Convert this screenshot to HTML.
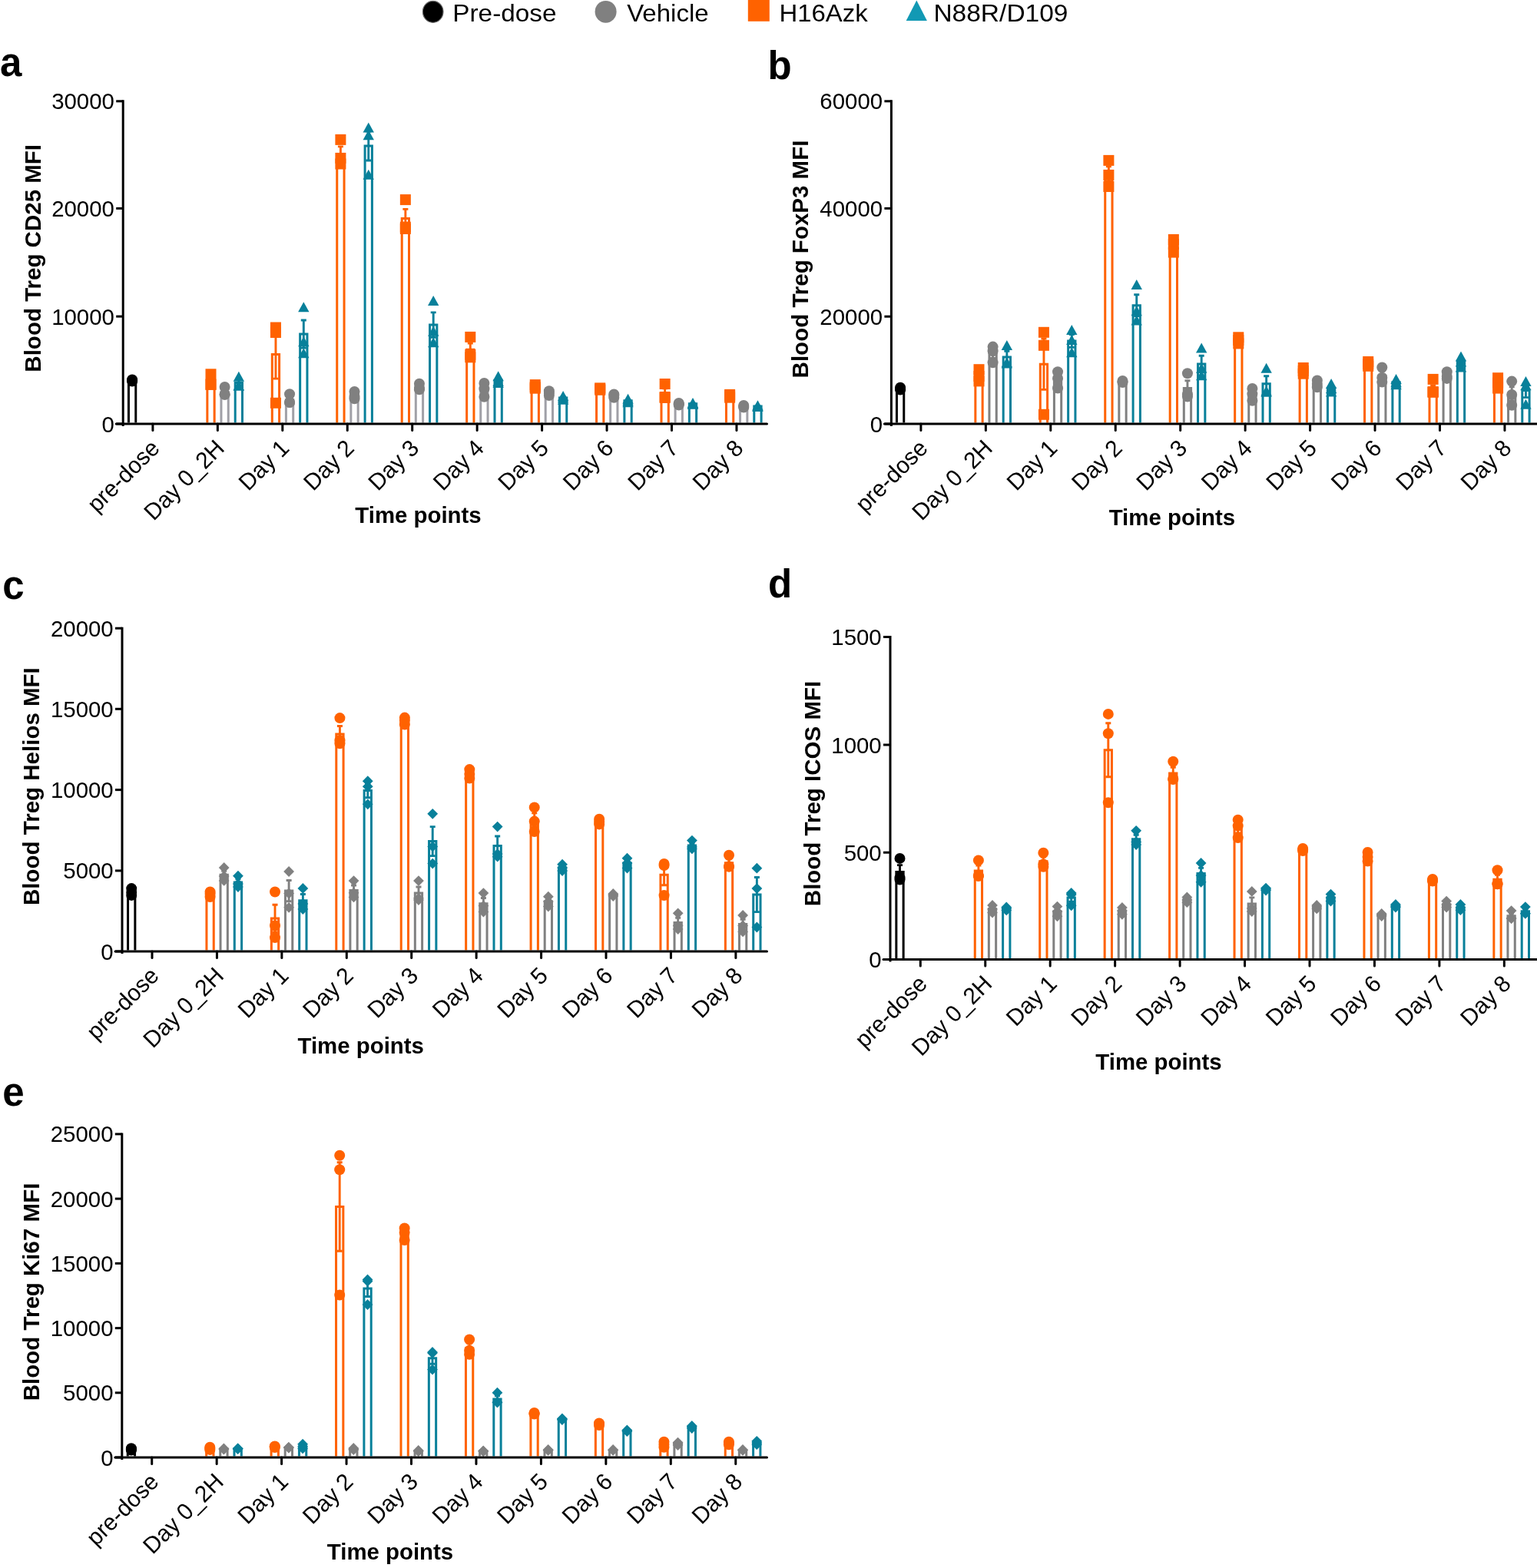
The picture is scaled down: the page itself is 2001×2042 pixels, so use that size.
<!DOCTYPE html>
<html><head><meta charset="utf-8"><title>Blood Treg MFI time course</title>
<style>html,body{margin:0;padding:0;background:#fff;}body{width:2001px;height:2042px;overflow:hidden;}svg{display:block;}text{fill:#000;}</style>
</head><body>
<svg width="2001" height="2042" viewBox="0 0 2001 2042" font-family="'Liberation Sans', Arial, Helvetica, sans-serif">
<rect width="2001" height="2042" fill="#fff"/>
<ellipse cx="563.7" cy="15.3" rx="13.3" ry="14" fill="#000" stroke="#6a6a6a" stroke-width="1.2"/>
<text x="589.3" y="27.6" font-size="32" textLength="135.23" lengthAdjust="spacingAndGlyphs">Pre-dose</text>
<ellipse cx="788.6" cy="15.3" rx="14" ry="14.4" fill="#808080"/>
<text x="816.2" y="27.6" font-size="32" textLength="106.37" lengthAdjust="spacingAndGlyphs">Vehicle</text>
<rect x="973.8" y="-2" width="28" height="29.8" fill="#FF6200"/>
<text x="1014.4" y="27.6" font-size="32" textLength="115.35" lengthAdjust="spacingAndGlyphs">H16Azk</text>
<polygon points="1193.3,0.6 1206.9,27 1179.7,27" fill="#1299B4"/>
<text x="1215.4" y="27.6" font-size="32" textLength="175.11" lengthAdjust="spacingAndGlyphs">N88R/D109</text>
<path d="M167.45 550.6V495.5H176.75V550.6" fill="none" stroke="#000000" stroke-width="3"/>
<path d="M269.85 550.6V496.3H279.15V550.6" fill="none" stroke="#FF6200" stroke-width="3"/>
<path d="M287.95 550.6V510.53H297.25V550.6" fill="none" stroke="#A0A0A7" stroke-width="3"/>
<path d="M306.2 550.6V498.47H315.5V550.6" fill="none" stroke="#08809A" stroke-width="3"/>
<path d="M354.3 550.6V461.43H363.6V550.6" fill="none" stroke="#FF6200" stroke-width="3"/>
<path d="M372.4 550.6V520.4H381.7V550.6" fill="none" stroke="#A0A0A7" stroke-width="3"/>
<path d="M390.65 550.6V435H399.95V550.6" fill="none" stroke="#08809A" stroke-width="3"/>
<path d="M438.75 550.6V200.43H448.05V550.6" fill="none" stroke="#FF6200" stroke-width="3"/>
<path d="M456.85 550.6V515.03H466.15V550.6" fill="none" stroke="#A0A0A7" stroke-width="3"/>
<path d="M475.1 550.6V190H484.4V550.6" fill="none" stroke="#08809A" stroke-width="3"/>
<path d="M523.2 550.6V284.6H532.5V550.6" fill="none" stroke="#FF6200" stroke-width="3"/>
<path d="M541.3 550.6V504.03H550.6V550.6" fill="none" stroke="#A0A0A7" stroke-width="3"/>
<path d="M559.55 550.6V423.07H568.85V550.6" fill="none" stroke="#08809A" stroke-width="3"/>
<path d="M607.65 550.6V455.33H616.95V550.6" fill="none" stroke="#FF6200" stroke-width="3"/>
<path d="M625.75 550.6V507.37H635.05V550.6" fill="none" stroke="#A0A0A7" stroke-width="3"/>
<path d="M644 550.6V495.23H653.3V550.6" fill="none" stroke="#08809A" stroke-width="3"/>
<path d="M692.1 550.6V503.6H701.4V550.6" fill="none" stroke="#FF6200" stroke-width="3"/>
<path d="M710.2 550.6V512.07H719.5V550.6" fill="none" stroke="#A0A0A7" stroke-width="3"/>
<path d="M728.45 550.6V518.1H737.75V550.6" fill="none" stroke="#08809A" stroke-width="3"/>
<path d="M776.55 550.6V506.57H785.85V550.6" fill="none" stroke="#FF6200" stroke-width="3"/>
<path d="M794.65 550.6V515.4H803.95V550.6" fill="none" stroke="#A0A0A7" stroke-width="3"/>
<path d="M812.9 550.6V521.87H822.2V550.6" fill="none" stroke="#08809A" stroke-width="3"/>
<path d="M861 550.6V511.67H870.3V550.6" fill="none" stroke="#FF6200" stroke-width="3"/>
<path d="M879.1 550.6V526.27H888.4V550.6" fill="none" stroke="#A0A0A7" stroke-width="3"/>
<path d="M897.35 550.6V525.77H906.65V550.6" fill="none" stroke="#08809A" stroke-width="3"/>
<path d="M945.45 550.6V515.7H954.75V550.6" fill="none" stroke="#FF6200" stroke-width="3"/>
<path d="M963.55 550.6V529.17H972.85V550.6" fill="none" stroke="#A0A0A7" stroke-width="3"/>
<path d="M981.8 550.6V528.97H991.1V550.6" fill="none" stroke="#08809A" stroke-width="3"/>
<path d="M172.1 494.92V496.08M168.6 494.92H175.6M168.6 496.08H175.6" stroke="#000000" stroke-width="2.9" fill="none"/>
<path d="M274.5 491.8V500.8M271 491.8H278M271 500.8H278" stroke="#FF6200" stroke-width="2.9" fill="none"/>
<path d="M292.6 507.27V513.8M289.1 507.27H296.1M289.1 513.8H296.1" stroke="#A0A0A7" stroke-width="2.9" fill="none"/>
<path d="M310.85 494.53V502.4M307.35 494.53H314.35M307.35 502.4H314.35" stroke="#08809A" stroke-width="2.9" fill="none"/>
<path d="M358.95 429.69V493.17M355.45 429.69H362.45M355.45 493.17H362.45" stroke="#FF6200" stroke-width="2.9" fill="none"/>
<path d="M377.05 516.8V524M373.55 516.8H380.55M373.55 524H380.55" stroke="#A0A0A7" stroke-width="2.9" fill="none"/>
<path d="M395.3 416.97V453.03M391.8 416.97H398.8M391.8 453.03H398.8" stroke="#08809A" stroke-width="2.9" fill="none"/>
<path d="M443.4 190.91V209.96M439.9 190.91H446.9M439.9 209.96H446.9" stroke="#FF6200" stroke-width="2.9" fill="none"/>
<path d="M461.5 512.31V517.76M458 512.31H465M458 517.76H465" stroke="#A0A0A7" stroke-width="2.9" fill="none"/>
<path d="M479.75 171.04V208.96M476.25 171.04H483.25M476.25 208.96H483.25" stroke="#08809A" stroke-width="2.9" fill="none"/>
<path d="M527.85 272.33V296.87M524.35 272.33H531.35M524.35 296.87H531.35" stroke="#FF6200" stroke-width="2.9" fill="none"/>
<path d="M545.95 501.81V506.25M542.45 501.81H549.45M542.45 506.25H549.45" stroke="#A0A0A7" stroke-width="2.9" fill="none"/>
<path d="M564.2 406.83V439.3M560.7 406.83H567.7M560.7 439.3H567.7" stroke="#08809A" stroke-width="2.9" fill="none"/>
<path d="M612.3 447.05V463.61M608.8 447.05H615.8M608.8 463.61H615.8" stroke="#FF6200" stroke-width="2.9" fill="none"/>
<path d="M630.4 502.2V512.53M626.9 502.2H633.9M626.9 512.53H633.9" stroke="#A0A0A7" stroke-width="2.9" fill="none"/>
<path d="M648.65 492.55V497.92M645.15 492.55H652.15M645.15 497.92H652.15" stroke="#08809A" stroke-width="2.9" fill="none"/>
<path d="M696.75 502.26V504.94M693.25 502.26H700.25M693.25 504.94H700.25" stroke="#FF6200" stroke-width="2.9" fill="none"/>
<path d="M714.85 510.39V513.74M711.35 510.39H718.35M711.35 513.74H718.35" stroke="#A0A0A7" stroke-width="2.9" fill="none"/>
<path d="M733.1 516.74V519.46M729.6 516.74H736.6M729.6 519.46H736.6" stroke="#08809A" stroke-width="2.9" fill="none"/>
<path d="M781.2 505.87V507.26M777.7 505.87H784.7M777.7 507.26H784.7" stroke="#FF6200" stroke-width="2.9" fill="none"/>
<path d="M799.3 514.17V516.63M795.8 514.17H802.8M795.8 516.63H802.8" stroke="#A0A0A7" stroke-width="2.9" fill="none"/>
<path d="M817.55 520.59V523.14M814.05 520.59H821.05M814.05 523.14H821.05" stroke="#08809A" stroke-width="2.9" fill="none"/>
<path d="M865.65 505.83V517.51M862.15 505.83H869.15M862.15 517.51H869.15" stroke="#FF6200" stroke-width="2.9" fill="none"/>
<path d="M883.75 525.54V526.99M880.25 525.54H887.25M880.25 526.99H887.25" stroke="#A0A0A7" stroke-width="2.9" fill="none"/>
<path d="M902 525.26V526.27M898.5 525.26H905.5M898.5 526.27H905.5" stroke="#08809A" stroke-width="2.9" fill="none"/>
<path d="M950.1 514.6V516.8M946.6 514.6H953.6M946.6 516.8H953.6" stroke="#FF6200" stroke-width="2.9" fill="none"/>
<path d="M968.2 528.44V529.89M964.7 528.44H971.7M964.7 529.89H971.7" stroke="#A0A0A7" stroke-width="2.9" fill="none"/>
<path d="M986.45 528.48V529.46M982.95 528.48H989.95M982.95 529.46H989.95" stroke="#08809A" stroke-width="2.9" fill="none"/>
<circle cx="172.1" cy="494.5" r="7" fill="#000000"/>
<circle cx="172.1" cy="495.5" r="7" fill="#000000"/>
<circle cx="172.1" cy="496.5" r="7" fill="#000000"/>
<rect x="267.5" y="480.3" width="14" height="14" fill="#FF6200"/>
<rect x="267.5" y="493.8" width="14" height="14" fill="#FF6200"/>
<rect x="267.5" y="493.8" width="14" height="14" fill="#FF6200"/>
<circle cx="292.6" cy="504" r="7" fill="#808080"/>
<circle cx="292.6" cy="513.8" r="7" fill="#808080"/>
<circle cx="292.6" cy="513.8" r="7" fill="#808080"/>
<polygon points="310.85,483.8 318.05,496.8 303.65,496.8" fill="#08809A"/>
<polygon points="310.85,495.6 318.05,508.6 303.65,508.6" fill="#08809A"/>
<polygon points="310.85,495.6 318.05,508.6 303.65,508.6" fill="#08809A"/>
<rect x="351.95" y="419.5" width="14" height="14" fill="#FF6200"/>
<rect x="351.95" y="426" width="14" height="14" fill="#FF6200"/>
<rect x="351.95" y="517.8" width="14" height="14" fill="#FF6200"/>
<circle cx="377.05" cy="513.2" r="7" fill="#808080"/>
<circle cx="377.05" cy="524" r="7" fill="#808080"/>
<circle cx="377.05" cy="524" r="7" fill="#808080"/>
<polygon points="395.3,393.2 402.5,406.2 388.1,406.2" fill="#08809A"/>
<polygon points="395.3,438.2 402.5,451.2 388.1,451.2" fill="#08809A"/>
<polygon points="395.3,453.2 402.5,466.2 388.1,466.2" fill="#08809A"/>
<rect x="436.4" y="174.9" width="14" height="14" fill="#FF6200"/>
<rect x="436.4" y="198.9" width="14" height="14" fill="#FF6200"/>
<rect x="436.4" y="206.5" width="14" height="14" fill="#FF6200"/>
<circle cx="461.5" cy="509.9" r="7" fill="#808080"/>
<circle cx="461.5" cy="516" r="7" fill="#808080"/>
<circle cx="461.5" cy="519.2" r="7" fill="#808080"/>
<polygon points="479.75,159.6 486.95,172.6 472.55,172.6" fill="#08809A"/>
<polygon points="479.75,169.3 486.95,182.3 472.55,182.3" fill="#08809A"/>
<polygon points="479.75,220.7 486.95,233.7 472.55,233.7" fill="#08809A"/>
<rect x="520.85" y="253.1" width="14" height="14" fill="#FF6200"/>
<rect x="520.85" y="288.7" width="14" height="14" fill="#FF6200"/>
<rect x="520.85" y="291" width="14" height="14" fill="#FF6200"/>
<circle cx="545.95" cy="499.8" r="7" fill="#808080"/>
<circle cx="545.95" cy="505" r="7" fill="#808080"/>
<circle cx="545.95" cy="507.3" r="7" fill="#808080"/>
<polygon points="564.2,384.9 571.4,397.9 557,397.9" fill="#08809A"/>
<polygon points="564.2,424.7 571.4,437.7 557,437.7" fill="#08809A"/>
<polygon points="564.2,439.2 571.4,452.2 557,452.2" fill="#08809A"/>
<rect x="605.3" y="431.9" width="14" height="14" fill="#FF6200"/>
<rect x="605.3" y="454.8" width="14" height="14" fill="#FF6200"/>
<rect x="605.3" y="458.3" width="14" height="14" fill="#FF6200"/>
<circle cx="630.4" cy="499" r="7" fill="#808080"/>
<circle cx="630.4" cy="506.3" r="7" fill="#808080"/>
<circle cx="630.4" cy="516.8" r="7" fill="#808080"/>
<polygon points="648.65,483.2 655.85,496.2 641.45,496.2" fill="#08809A"/>
<polygon points="648.65,490 655.85,503 641.45,503" fill="#08809A"/>
<polygon points="648.65,492.1 655.85,505.1 641.45,505.1" fill="#08809A"/>
<rect x="689.75" y="494.1" width="14" height="14" fill="#FF6200"/>
<rect x="689.75" y="497" width="14" height="14" fill="#FF6200"/>
<rect x="689.75" y="498.7" width="14" height="14" fill="#FF6200"/>
<circle cx="714.85" cy="509.2" r="7" fill="#808080"/>
<circle cx="714.85" cy="512" r="7" fill="#808080"/>
<circle cx="714.85" cy="515" r="7" fill="#808080"/>
<polygon points="733.1,509 740.3,522 725.9,522" fill="#08809A"/>
<polygon points="733.1,511.2 740.3,524.2 725.9,524.2" fill="#08809A"/>
<polygon points="733.1,513.7 740.3,526.7 725.9,526.7" fill="#08809A"/>
<rect x="774.2" y="498.4" width="14" height="14" fill="#FF6200"/>
<rect x="774.2" y="499.5" width="14" height="14" fill="#FF6200"/>
<rect x="774.2" y="500.8" width="14" height="14" fill="#FF6200"/>
<circle cx="799.3" cy="513.5" r="7" fill="#808080"/>
<circle cx="799.3" cy="515" r="7" fill="#808080"/>
<circle cx="799.3" cy="517.7" r="7" fill="#808080"/>
<polygon points="817.55,512.8 824.75,525.8 810.35,525.8" fill="#08809A"/>
<polygon points="817.55,515.2 824.75,528.2 810.35,528.2" fill="#08809A"/>
<polygon points="817.55,517.2 824.75,530.2 810.35,530.2" fill="#08809A"/>
<rect x="858.65" y="493" width="14" height="14" fill="#FF6200"/>
<rect x="858.65" y="510" width="14" height="14" fill="#FF6200"/>
<rect x="858.65" y="511" width="14" height="14" fill="#FF6200"/>
<circle cx="883.75" cy="525" r="7" fill="#808080"/>
<circle cx="883.75" cy="526.3" r="7" fill="#808080"/>
<circle cx="883.75" cy="527.5" r="7" fill="#808080"/>
<polygon points="902,518 909.2,531 894.8,531" fill="#08809A"/>
<polygon points="902,519.2 909.2,532.2 894.8,532.2" fill="#08809A"/>
<polygon points="902,519.7 909.2,532.7 894.8,532.7" fill="#08809A"/>
<rect x="943.1" y="506.9" width="14" height="14" fill="#FF6200"/>
<rect x="943.1" y="508.5" width="14" height="14" fill="#FF6200"/>
<rect x="943.1" y="510.7" width="14" height="14" fill="#FF6200"/>
<circle cx="968.2" cy="528" r="7" fill="#808080"/>
<circle cx="968.2" cy="529" r="7" fill="#808080"/>
<circle cx="968.2" cy="530.5" r="7" fill="#808080"/>
<polygon points="986.45,521.3 993.65,534.3 979.25,534.3" fill="#08809A"/>
<polygon points="986.45,522.2 993.65,535.2 979.25,535.2" fill="#08809A"/>
<polygon points="986.45,523 993.65,536 979.25,536" fill="#08809A"/>
<path d="M160.2 130.3V555" stroke="#000" stroke-width="3" fill="none"/>
<path d="M151.2 552H998.5" stroke="#000" stroke-width="3" fill="none" stroke-linecap="round"/>
<path d="M151.2 552H160.2" stroke="#000" stroke-width="3"/>
<text x="148.9" y="562.5" text-anchor="end" font-size="29.8" textLength="16.35" lengthAdjust="spacingAndGlyphs">0</text>
<path d="M151.2 412.1H160.2" stroke="#000" stroke-width="3"/>
<text x="148.9" y="422.6" text-anchor="end" font-size="29.8" textLength="81.76" lengthAdjust="spacingAndGlyphs">10000</text>
<path d="M151.2 271.4H160.2" stroke="#000" stroke-width="3"/>
<text x="148.9" y="281.9" text-anchor="end" font-size="29.8" textLength="81.76" lengthAdjust="spacingAndGlyphs">20000</text>
<path d="M151.2 131.8H160.2" stroke="#000" stroke-width="3"/>
<text x="148.9" y="142.3" text-anchor="end" font-size="29.8" textLength="81.76" lengthAdjust="spacingAndGlyphs">30000</text>
<path d="M198.9 552V560.5" stroke="#000" stroke-width="3" stroke-linecap="round"/>
<text transform="translate(209.4 585.4) rotate(-45)" text-anchor="end" font-size="30.4" textLength="117.78" lengthAdjust="spacingAndGlyphs">pre-dose</text>
<path d="M283.35 552V560.5" stroke="#000" stroke-width="3" stroke-linecap="round"/>
<text transform="translate(293.85 585.4) rotate(-45)" text-anchor="end" font-size="30.4" textLength="132.7" lengthAdjust="spacingAndGlyphs">Day 0_2H</text>
<path d="M367.8 552V560.5" stroke="#000" stroke-width="3" stroke-linecap="round"/>
<text transform="translate(378.3 585.4) rotate(-45)" text-anchor="end" font-size="30.4" textLength="77.95" lengthAdjust="spacingAndGlyphs">Day 1</text>
<path d="M452.25 552V560.5" stroke="#000" stroke-width="3" stroke-linecap="round"/>
<text transform="translate(462.75 585.4) rotate(-45)" text-anchor="end" font-size="30.4" textLength="77.95" lengthAdjust="spacingAndGlyphs">Day 2</text>
<path d="M536.7 552V560.5" stroke="#000" stroke-width="3" stroke-linecap="round"/>
<text transform="translate(547.2 585.4) rotate(-45)" text-anchor="end" font-size="30.4" textLength="77.95" lengthAdjust="spacingAndGlyphs">Day 3</text>
<path d="M621.15 552V560.5" stroke="#000" stroke-width="3" stroke-linecap="round"/>
<text transform="translate(631.65 585.4) rotate(-45)" text-anchor="end" font-size="30.4" textLength="77.95" lengthAdjust="spacingAndGlyphs">Day 4</text>
<path d="M705.6 552V560.5" stroke="#000" stroke-width="3" stroke-linecap="round"/>
<text transform="translate(716.1 585.4) rotate(-45)" text-anchor="end" font-size="30.4" textLength="77.95" lengthAdjust="spacingAndGlyphs">Day 5</text>
<path d="M790.05 552V560.5" stroke="#000" stroke-width="3" stroke-linecap="round"/>
<text transform="translate(800.55 585.4) rotate(-45)" text-anchor="end" font-size="30.4" textLength="77.95" lengthAdjust="spacingAndGlyphs">Day 6</text>
<path d="M874.5 552V560.5" stroke="#000" stroke-width="3" stroke-linecap="round"/>
<text transform="translate(885 585.4) rotate(-45)" text-anchor="end" font-size="30.4" textLength="77.95" lengthAdjust="spacingAndGlyphs">Day 7</text>
<path d="M958.95 552V560.5" stroke="#000" stroke-width="3" stroke-linecap="round"/>
<text transform="translate(969.45 585.4) rotate(-45)" text-anchor="end" font-size="30.4" textLength="77.95" lengthAdjust="spacingAndGlyphs">Day 8</text>
<text x="544.5" y="681.1" text-anchor="middle" font-size="29.4" font-weight="bold">Time points</text>
<text transform="translate(53.2 336.3) rotate(-90)" text-anchor="middle" font-size="29.5" font-weight="bold">Blood Treg CD25 MFI</text>
<text x="0" y="98.8" font-size="51" font-weight="bold">a</text>
<path d="M1167.45 550.6V506.13H1176.75V550.6" fill="none" stroke="#000000" stroke-width="3"/>
<path d="M1269.85 550.6V489.2H1279.15V550.6" fill="none" stroke="#FF6200" stroke-width="3"/>
<path d="M1287.95 550.6V460.37H1297.25V550.6" fill="none" stroke="#808080" stroke-width="3"/>
<path d="M1306.2 550.6V465.03H1315.5V550.6" fill="none" stroke="#08809A" stroke-width="3"/>
<path d="M1354.3 550.6V474.13H1363.6V550.6" fill="none" stroke="#FF6200" stroke-width="3"/>
<path d="M1372.4 550.6V494.13H1381.7V550.6" fill="none" stroke="#808080" stroke-width="3"/>
<path d="M1390.65 550.6V443.9H1399.95V550.6" fill="none" stroke="#08809A" stroke-width="3"/>
<path d="M1438.75 550.6V226.6H1448.05V550.6" fill="none" stroke="#FF6200" stroke-width="3"/>
<path d="M1456.85 550.6V497H1466.15V550.6" fill="none" stroke="#808080" stroke-width="3"/>
<path d="M1475.1 550.6V397.7H1484.4V550.6" fill="none" stroke="#08809A" stroke-width="3"/>
<path d="M1523.2 550.6V319.53H1532.5V550.6" fill="none" stroke="#FF6200" stroke-width="3"/>
<path d="M1541.3 550.6V505.4H1550.6V550.6" fill="none" stroke="#808080" stroke-width="3"/>
<path d="M1559.55 550.6V473.97H1568.85V550.6" fill="none" stroke="#08809A" stroke-width="3"/>
<path d="M1607.65 550.6V443.23H1616.95V550.6" fill="none" stroke="#FF6200" stroke-width="3"/>
<path d="M1625.75 550.6V513.57H1635.05V550.6" fill="none" stroke="#808080" stroke-width="3"/>
<path d="M1644 550.6V499.8H1653.3V550.6" fill="none" stroke="#08809A" stroke-width="3"/>
<path d="M1692.1 550.6V482.9H1701.4V550.6" fill="none" stroke="#FF6200" stroke-width="3"/>
<path d="M1710.2 550.6V499.9H1719.5V550.6" fill="none" stroke="#808080" stroke-width="3"/>
<path d="M1728.45 550.6V505.4H1737.75V550.6" fill="none" stroke="#08809A" stroke-width="3"/>
<path d="M1776.55 550.6V473.93H1785.85V550.6" fill="none" stroke="#FF6200" stroke-width="3"/>
<path d="M1794.65 550.6V489.3H1803.95V550.6" fill="none" stroke="#808080" stroke-width="3"/>
<path d="M1812.9 550.6V497.67H1822.2V550.6" fill="none" stroke="#08809A" stroke-width="3"/>
<path d="M1861 550.6V506.35H1870.3V550.6" fill="none" stroke="#FF6200" stroke-width="3"/>
<path d="M1879.1 550.6V489.03H1888.4V550.6" fill="none" stroke="#808080" stroke-width="3"/>
<path d="M1897.35 550.6V471.3H1906.65V550.6" fill="none" stroke="#08809A" stroke-width="3"/>
<path d="M1945.45 550.6V498.77H1954.75V550.6" fill="none" stroke="#FF6200" stroke-width="3"/>
<path d="M1963.55 550.6V512.8H1972.85V550.6" fill="none" stroke="#808080" stroke-width="3"/>
<path d="M1981.8 550.6V508.47H1991.1V550.6" fill="none" stroke="#08809A" stroke-width="3"/>
<path d="M1172.1 505.32V506.94M1168.6 505.32H1175.6M1168.6 506.94H1175.6" stroke="#000000" stroke-width="2.9" fill="none"/>
<path d="M1274.5 484.79V493.61M1271 484.79H1278M1271 493.61H1278" stroke="#FF6200" stroke-width="2.9" fill="none"/>
<path d="M1292.6 454.23V466.51M1289.1 454.23H1296.1M1289.1 466.51H1296.1" stroke="#808080" stroke-width="2.9" fill="none"/>
<path d="M1310.85 457.41V472.66M1307.35 457.41H1314.35M1307.35 472.66H1314.35" stroke="#08809A" stroke-width="2.9" fill="none"/>
<path d="M1358.95 440.94V507.33M1355.45 440.94H1362.45M1355.45 507.33H1362.45" stroke="#FF6200" stroke-width="2.9" fill="none"/>
<path d="M1377.05 487.94V500.32M1373.55 487.94H1380.55M1373.55 500.32H1380.55" stroke="#808080" stroke-width="2.9" fill="none"/>
<path d="M1395.3 435.45V452.35M1391.8 435.45H1398.8M1391.8 452.35H1398.8" stroke="#08809A" stroke-width="2.9" fill="none"/>
<path d="M1443.4 216.73V236.47M1439.9 216.73H1446.9M1439.9 236.47H1446.9" stroke="#FF6200" stroke-width="2.9" fill="none"/>
<path d="M1461.5 496.42V497.58M1458 496.42H1465M1458 497.58H1465" stroke="#808080" stroke-width="2.9" fill="none"/>
<path d="M1479.75 383.79V411.61M1476.25 383.79H1483.25M1476.25 411.61H1483.25" stroke="#08809A" stroke-width="2.9" fill="none"/>
<path d="M1527.85 314.68V324.39M1524.35 314.68H1531.35M1524.35 324.39H1531.35" stroke="#FF6200" stroke-width="2.9" fill="none"/>
<path d="M1545.95 495.76V515.04M1542.45 495.76H1549.45M1542.45 515.04H1549.45" stroke="#808080" stroke-width="2.9" fill="none"/>
<path d="M1564.2 463.28V484.65M1560.7 463.28H1567.7M1560.7 484.65H1567.7" stroke="#08809A" stroke-width="2.9" fill="none"/>
<path d="M1612.3 440.89V445.57M1608.8 440.89H1615.8M1608.8 445.57H1615.8" stroke="#FF6200" stroke-width="2.9" fill="none"/>
<path d="M1630.4 509V518.13M1626.9 509H1633.9M1626.9 518.13H1633.9" stroke="#808080" stroke-width="2.9" fill="none"/>
<path d="M1648.65 489.69V509.91M1645.15 489.69H1652.15M1645.15 509.91H1652.15" stroke="#08809A" stroke-width="2.9" fill="none"/>
<path d="M1696.75 480.68V485.12M1693.25 480.68H1700.25M1693.25 485.12H1700.25" stroke="#FF6200" stroke-width="2.9" fill="none"/>
<path d="M1714.85 497.39V502.41M1711.35 497.39H1718.35M1711.35 502.41H1718.35" stroke="#808080" stroke-width="2.9" fill="none"/>
<path d="M1733.1 502.38V508.42M1729.6 502.38H1736.6M1729.6 508.42H1736.6" stroke="#08809A" stroke-width="2.9" fill="none"/>
<path d="M1781.2 472.26V475.61M1777.7 472.26H1784.7M1777.7 475.61H1784.7" stroke="#FF6200" stroke-width="2.9" fill="none"/>
<path d="M1799.3 483.65V494.95M1795.8 483.65H1802.8M1795.8 494.95H1802.8" stroke="#808080" stroke-width="2.9" fill="none"/>
<path d="M1817.55 495.58V499.75M1814.05 495.58H1821.05M1814.05 499.75H1821.05" stroke="#08809A" stroke-width="2.9" fill="none"/>
<path d="M1865.65 502.2V510.5M1862.15 502.2H1869.15M1862.15 510.5H1869.15" stroke="#FF6200" stroke-width="2.9" fill="none"/>
<path d="M1883.75 486.48V491.59M1880.25 486.48H1887.25M1880.25 491.59H1887.25" stroke="#808080" stroke-width="2.9" fill="none"/>
<path d="M1902 467.2V475.4M1898.5 467.2H1905.5M1898.5 475.4H1905.5" stroke="#08809A" stroke-width="2.9" fill="none"/>
<path d="M1950.1 494.9V502.64M1946.6 494.9H1953.6M1946.6 502.64H1953.6" stroke="#FF6200" stroke-width="2.9" fill="none"/>
<path d="M1968.2 503.77V521.83M1964.7 503.77H1971.7M1964.7 521.83H1971.7" stroke="#808080" stroke-width="2.9" fill="none"/>
<path d="M1986.45 499.28V517.66M1982.95 499.28H1989.95M1982.95 517.66H1989.95" stroke="#08809A" stroke-width="2.9" fill="none"/>
<circle cx="1172.1" cy="504.8" r="7" fill="#000000"/>
<circle cx="1172.1" cy="506" r="7" fill="#000000"/>
<circle cx="1172.1" cy="507.6" r="7" fill="#000000"/>
<rect x="1267.5" y="474.2" width="14" height="14" fill="#FF6200"/>
<rect x="1267.5" y="483" width="14" height="14" fill="#FF6200"/>
<rect x="1267.5" y="489.4" width="14" height="14" fill="#FF6200"/>
<circle cx="1292.6" cy="451.6" r="7" fill="#808080"/>
<circle cx="1292.6" cy="457.3" r="7" fill="#808080"/>
<circle cx="1292.6" cy="472.2" r="7" fill="#808080"/>
<polygon points="1310.85,443 1318.05,456 1303.65,456" fill="#08809A"/>
<polygon points="1310.85,465.2 1318.05,478.2 1303.65,478.2" fill="#08809A"/>
<polygon points="1310.85,466.5 1318.05,479.5 1303.65,479.5" fill="#08809A"/>
<rect x="1351.95" y="425.8" width="14" height="14" fill="#FF6200"/>
<rect x="1351.95" y="442.8" width="14" height="14" fill="#FF6200"/>
<rect x="1351.95" y="532.8" width="14" height="14" fill="#FF6200"/>
<circle cx="1377.05" cy="484.2" r="7" fill="#808080"/>
<circle cx="1377.05" cy="492.7" r="7" fill="#808080"/>
<circle cx="1377.05" cy="505.5" r="7" fill="#808080"/>
<polygon points="1395.3,423.1 1402.5,436.1 1388.1,436.1" fill="#08809A"/>
<polygon points="1395.3,435.9 1402.5,448.9 1388.1,448.9" fill="#08809A"/>
<polygon points="1395.3,452.3 1402.5,465.3 1388.1,465.3" fill="#08809A"/>
<rect x="1436.4" y="201.9" width="14" height="14" fill="#FF6200"/>
<rect x="1436.4" y="220.9" width="14" height="14" fill="#FF6200"/>
<rect x="1436.4" y="236" width="14" height="14" fill="#FF6200"/>
<circle cx="1461.5" cy="496" r="7" fill="#808080"/>
<circle cx="1461.5" cy="497" r="7" fill="#808080"/>
<circle cx="1461.5" cy="498" r="7" fill="#808080"/>
<polygon points="1479.75,364 1486.95,377 1472.55,377" fill="#08809A"/>
<polygon points="1479.75,398.2 1486.95,411.2 1472.55,411.2" fill="#08809A"/>
<polygon points="1479.75,410.5 1486.95,423.5 1472.55,423.5" fill="#08809A"/>
<rect x="1520.85" y="305" width="14" height="14" fill="#FF6200"/>
<rect x="1520.85" y="311" width="14" height="14" fill="#FF6200"/>
<rect x="1520.85" y="321.6" width="14" height="14" fill="#FF6200"/>
<circle cx="1545.95" cy="486.2" r="7" fill="#808080"/>
<circle cx="1545.95" cy="513.5" r="7" fill="#808080"/>
<circle cx="1545.95" cy="516.5" r="7" fill="#808080"/>
<polygon points="1564.2,446.5 1571.4,459.5 1557,459.5" fill="#08809A"/>
<polygon points="1564.2,472.8 1571.4,485.8 1557,485.8" fill="#08809A"/>
<polygon points="1564.2,482.2 1571.4,495.2 1557,495.2" fill="#08809A"/>
<rect x="1605.3" y="432.3" width="14" height="14" fill="#FF6200"/>
<rect x="1605.3" y="436" width="14" height="14" fill="#FF6200"/>
<rect x="1605.3" y="440.4" width="14" height="14" fill="#FF6200"/>
<circle cx="1630.4" cy="505.9" r="7" fill="#808080"/>
<circle cx="1630.4" cy="513.1" r="7" fill="#808080"/>
<circle cx="1630.4" cy="521.7" r="7" fill="#808080"/>
<polygon points="1648.65,472.8 1655.85,485.8 1641.45,485.8" fill="#08809A"/>
<polygon points="1648.65,502.5 1655.85,515.5 1641.45,515.5" fill="#08809A"/>
<polygon points="1648.65,503.7 1655.85,516.7 1641.45,516.7" fill="#08809A"/>
<rect x="1689.75" y="472" width="14" height="14" fill="#FF6200"/>
<rect x="1689.75" y="476" width="14" height="14" fill="#FF6200"/>
<rect x="1689.75" y="479.7" width="14" height="14" fill="#FF6200"/>
<circle cx="1714.85" cy="495.5" r="7" fill="#808080"/>
<circle cx="1714.85" cy="500" r="7" fill="#808080"/>
<circle cx="1714.85" cy="504.2" r="7" fill="#808080"/>
<polygon points="1733.1,493.1 1740.3,506.1 1725.9,506.1" fill="#08809A"/>
<polygon points="1733.1,499.2 1740.3,512.2 1725.9,512.2" fill="#08809A"/>
<polygon points="1733.1,503.5 1740.3,516.5 1725.9,516.5" fill="#08809A"/>
<rect x="1774.2" y="464" width="14" height="14" fill="#FF6200"/>
<rect x="1774.2" y="467" width="14" height="14" fill="#FF6200"/>
<rect x="1774.2" y="469.8" width="14" height="14" fill="#FF6200"/>
<circle cx="1799.3" cy="478.5" r="7" fill="#808080"/>
<circle cx="1799.3" cy="491.8" r="7" fill="#808080"/>
<circle cx="1799.3" cy="497.6" r="7" fill="#808080"/>
<polygon points="1817.55,487.1 1824.75,500.1 1810.35,500.1" fill="#08809A"/>
<polygon points="1817.55,491.2 1824.75,504.2 1810.35,504.2" fill="#08809A"/>
<polygon points="1817.55,494.3 1824.75,507.3 1810.35,507.3" fill="#08809A"/>
<rect x="1858.65" y="486.9" width="14" height="14" fill="#FF6200"/>
<rect x="1858.65" y="503.5" width="14" height="14" fill="#FF6200"/>
<rect x="1858.65" y="503.5" width="14" height="14" fill="#FF6200"/>
<rect x="1858.65" y="503.5" width="14" height="14" fill="#FF6200"/>
<circle cx="1883.75" cy="484.2" r="7" fill="#808080"/>
<circle cx="1883.75" cy="490" r="7" fill="#808080"/>
<circle cx="1883.75" cy="492.9" r="7" fill="#808080"/>
<polygon points="1902,457.4 1909.2,470.4 1894.8,470.4" fill="#08809A"/>
<polygon points="1902,464.5 1909.2,477.5 1894.8,477.5" fill="#08809A"/>
<polygon points="1902,471.6 1909.2,484.6 1894.8,484.6" fill="#08809A"/>
<rect x="1943.1" y="485.2" width="14" height="14" fill="#FF6200"/>
<rect x="1943.1" y="491.5" width="14" height="14" fill="#FF6200"/>
<rect x="1943.1" y="498.6" width="14" height="14" fill="#FF6200"/>
<circle cx="1968.2" cy="496.6" r="7" fill="#808080"/>
<circle cx="1968.2" cy="514" r="7" fill="#808080"/>
<circle cx="1968.2" cy="527.8" r="7" fill="#808080"/>
<polygon points="1986.45,490 1993.65,503 1979.25,503" fill="#08809A"/>
<polygon points="1986.45,495.2 1993.65,508.2 1979.25,508.2" fill="#08809A"/>
<polygon points="1986.45,519.8 1993.65,532.8 1979.25,532.8" fill="#08809A"/>
<path d="M1160.4 130.3V555" stroke="#000" stroke-width="3" fill="none"/>
<path d="M1151.4 552H2001.5" stroke="#000" stroke-width="3" fill="none" stroke-linecap="round"/>
<path d="M1151.4 552H1160.4" stroke="#000" stroke-width="3"/>
<text x="1149.1" y="562.5" text-anchor="end" font-size="29.8" textLength="16.35" lengthAdjust="spacingAndGlyphs">0</text>
<path d="M1151.4 412.2H1160.4" stroke="#000" stroke-width="3"/>
<text x="1149.1" y="422.7" text-anchor="end" font-size="29.8" textLength="81.76" lengthAdjust="spacingAndGlyphs">20000</text>
<path d="M1151.4 271.4H1160.4" stroke="#000" stroke-width="3"/>
<text x="1149.1" y="281.9" text-anchor="end" font-size="29.8" textLength="81.76" lengthAdjust="spacingAndGlyphs">40000</text>
<path d="M1151.4 131.8H1160.4" stroke="#000" stroke-width="3"/>
<text x="1149.1" y="142.3" text-anchor="end" font-size="29.8" textLength="81.76" lengthAdjust="spacingAndGlyphs">60000</text>
<path d="M1198.9 552V560.5" stroke="#000" stroke-width="3" stroke-linecap="round"/>
<text transform="translate(1209.4 585.4) rotate(-45)" text-anchor="end" font-size="30.4" textLength="117.78" lengthAdjust="spacingAndGlyphs">pre-dose</text>
<path d="M1283.35 552V560.5" stroke="#000" stroke-width="3" stroke-linecap="round"/>
<text transform="translate(1293.85 585.4) rotate(-45)" text-anchor="end" font-size="30.4" textLength="132.7" lengthAdjust="spacingAndGlyphs">Day 0_2H</text>
<path d="M1367.8 552V560.5" stroke="#000" stroke-width="3" stroke-linecap="round"/>
<text transform="translate(1378.3 585.4) rotate(-45)" text-anchor="end" font-size="30.4" textLength="77.95" lengthAdjust="spacingAndGlyphs">Day 1</text>
<path d="M1452.25 552V560.5" stroke="#000" stroke-width="3" stroke-linecap="round"/>
<text transform="translate(1462.75 585.4) rotate(-45)" text-anchor="end" font-size="30.4" textLength="77.95" lengthAdjust="spacingAndGlyphs">Day 2</text>
<path d="M1536.7 552V560.5" stroke="#000" stroke-width="3" stroke-linecap="round"/>
<text transform="translate(1547.2 585.4) rotate(-45)" text-anchor="end" font-size="30.4" textLength="77.95" lengthAdjust="spacingAndGlyphs">Day 3</text>
<path d="M1621.15 552V560.5" stroke="#000" stroke-width="3" stroke-linecap="round"/>
<text transform="translate(1631.65 585.4) rotate(-45)" text-anchor="end" font-size="30.4" textLength="77.95" lengthAdjust="spacingAndGlyphs">Day 4</text>
<path d="M1705.6 552V560.5" stroke="#000" stroke-width="3" stroke-linecap="round"/>
<text transform="translate(1716.1 585.4) rotate(-45)" text-anchor="end" font-size="30.4" textLength="77.95" lengthAdjust="spacingAndGlyphs">Day 5</text>
<path d="M1790.05 552V560.5" stroke="#000" stroke-width="3" stroke-linecap="round"/>
<text transform="translate(1800.55 585.4) rotate(-45)" text-anchor="end" font-size="30.4" textLength="77.95" lengthAdjust="spacingAndGlyphs">Day 6</text>
<path d="M1874.5 552V560.5" stroke="#000" stroke-width="3" stroke-linecap="round"/>
<text transform="translate(1885 585.4) rotate(-45)" text-anchor="end" font-size="30.4" textLength="77.95" lengthAdjust="spacingAndGlyphs">Day 7</text>
<path d="M1958.95 552V560.5" stroke="#000" stroke-width="3" stroke-linecap="round"/>
<text transform="translate(1969.45 585.4) rotate(-45)" text-anchor="end" font-size="30.4" textLength="77.95" lengthAdjust="spacingAndGlyphs">Day 8</text>
<text x="1525.9" y="684.3" text-anchor="middle" font-size="29.4" font-weight="bold">Time points</text>
<text transform="translate(1052.4 337.5) rotate(-90)" text-anchor="middle" font-size="29.5" font-weight="bold">Blood Treg FoxP3 MFI</text>
<text x="999.6" y="102.9" font-size="51" font-weight="bold">b</text>
<path d="M166.55 1237.6V1161.67H175.85V1237.6" fill="none" stroke="#000000" stroke-width="3"/>
<path d="M268.93 1237.6V1164.5H278.23V1237.6" fill="none" stroke="#FF6200" stroke-width="3"/>
<path d="M287.03 1237.6V1139.27H296.33V1237.6" fill="none" stroke="#808080" stroke-width="3"/>
<path d="M305.28 1237.6V1148.9H314.58V1237.6" fill="none" stroke="#08809A" stroke-width="3"/>
<path d="M353.36 1237.6V1196.03H362.66V1237.6" fill="none" stroke="#FF6200" stroke-width="3"/>
<path d="M371.46 1237.6V1160.1H380.76V1237.6" fill="none" stroke="#808080" stroke-width="3"/>
<path d="M389.71 1237.6V1172.63H399.01V1237.6" fill="none" stroke="#08809A" stroke-width="3"/>
<path d="M437.79 1237.6V955.9H447.09V1237.6" fill="none" stroke="#FF6200" stroke-width="3"/>
<path d="M455.89 1237.6V1159.4H465.19V1237.6" fill="none" stroke="#808080" stroke-width="3"/>
<path d="M474.14 1237.6V1029.6H483.44V1237.6" fill="none" stroke="#08809A" stroke-width="3"/>
<path d="M522.22 1237.6V938.7H531.52V1237.6" fill="none" stroke="#FF6200" stroke-width="3"/>
<path d="M540.32 1237.6V1162.97H549.62V1237.6" fill="none" stroke="#808080" stroke-width="3"/>
<path d="M558.57 1237.6V1095.6H567.87V1237.6" fill="none" stroke="#08809A" stroke-width="3"/>
<path d="M606.65 1237.6V1007.9H615.95V1237.6" fill="none" stroke="#FF6200" stroke-width="3"/>
<path d="M624.75 1237.6V1176.77H634.05V1237.6" fill="none" stroke="#808080" stroke-width="3"/>
<path d="M643 1237.6V1101.47H652.3V1237.6" fill="none" stroke="#08809A" stroke-width="3"/>
<path d="M691.08 1237.6V1068H700.38V1237.6" fill="none" stroke="#FF6200" stroke-width="3"/>
<path d="M709.18 1237.6V1174.1H718.48V1237.6" fill="none" stroke="#808080" stroke-width="3"/>
<path d="M727.43 1237.6V1129.93H736.73V1237.6" fill="none" stroke="#08809A" stroke-width="3"/>
<path d="M775.51 1237.6V1070.07H784.81V1237.6" fill="none" stroke="#FF6200" stroke-width="3"/>
<path d="M793.61 1237.6V1165.4H802.91V1237.6" fill="none" stroke="#808080" stroke-width="3"/>
<path d="M811.86 1237.6V1124.07H821.16V1237.6" fill="none" stroke="#08809A" stroke-width="3"/>
<path d="M859.94 1237.6V1139.37H869.24V1237.6" fill="none" stroke="#FF6200" stroke-width="3"/>
<path d="M878.04 1237.6V1201.57H887.34V1237.6" fill="none" stroke="#808080" stroke-width="3"/>
<path d="M896.29 1237.6V1101H905.59V1237.6" fill="none" stroke="#08809A" stroke-width="3"/>
<path d="M944.37 1237.6V1123.67H953.67V1237.6" fill="none" stroke="#FF6200" stroke-width="3"/>
<path d="M962.47 1237.6V1203.6H971.77V1237.6" fill="none" stroke="#808080" stroke-width="3"/>
<path d="M980.72 1237.6V1165.1H990.02V1237.6" fill="none" stroke="#08809A" stroke-width="3"/>
<path d="M171.2 1159.12V1164.21M167.7 1159.12H174.7M167.7 1164.21H174.7" stroke="#000000" stroke-width="2.9" fill="none"/>
<path d="M273.58 1162.55V1166.45M270.08 1162.55H277.08M270.08 1166.45H277.08" stroke="#FF6200" stroke-width="2.9" fill="none"/>
<path d="M291.68 1134.28V1144.25M288.18 1134.28H295.18M288.18 1144.25H295.18" stroke="#808080" stroke-width="2.9" fill="none"/>
<path d="M309.93 1144.64V1153.16M306.43 1144.64H313.43M306.43 1153.16H313.43" stroke="#08809A" stroke-width="2.9" fill="none"/>
<path d="M358.01 1178.19V1213.88M354.51 1178.19H361.51M354.51 1213.88H361.51" stroke="#FF6200" stroke-width="2.9" fill="none"/>
<path d="M376.11 1146.48V1173.72M372.61 1146.48H379.61M372.61 1173.72H379.61" stroke="#808080" stroke-width="2.9" fill="none"/>
<path d="M394.36 1164.51V1180.76M390.86 1164.51H397.86M390.86 1180.76H397.86" stroke="#08809A" stroke-width="2.9" fill="none"/>
<path d="M442.44 945.44V966.36M438.94 945.44H445.94M438.94 966.36H445.94" stroke="#FF6200" stroke-width="2.9" fill="none"/>
<path d="M460.54 1153.03V1165.77M457.04 1153.03H464.04M457.04 1165.77H464.04" stroke="#808080" stroke-width="2.9" fill="none"/>
<path d="M478.79 1020.52V1038.68M475.29 1020.52H482.29M475.29 1038.68H482.29" stroke="#08809A" stroke-width="2.9" fill="none"/>
<path d="M526.87 936.11V941.29M523.37 936.11H530.37M523.37 941.29H530.37" stroke="#FF6200" stroke-width="2.9" fill="none"/>
<path d="M544.97 1155.01V1170.93M541.47 1155.01H548.47M541.47 1170.93H548.47" stroke="#808080" stroke-width="2.9" fill="none"/>
<path d="M563.22 1076.59V1114.61M559.72 1076.59H566.72M559.72 1114.61H566.72" stroke="#08809A" stroke-width="2.9" fill="none"/>
<path d="M611.3 1004.58V1011.22M607.8 1004.58H614.8M607.8 1011.22H614.8" stroke="#FF6200" stroke-width="2.9" fill="none"/>
<path d="M629.4 1169.55V1183.98M625.9 1169.55H632.9M625.9 1183.98H632.9" stroke="#808080" stroke-width="2.9" fill="none"/>
<path d="M647.65 1088.99V1113.94M644.15 1088.99H651.15M644.15 1113.94H651.15" stroke="#08809A" stroke-width="2.9" fill="none"/>
<path d="M695.73 1058.84V1077.16M692.23 1058.84H699.23M692.23 1077.16H699.23" stroke="#FF6200" stroke-width="2.9" fill="none"/>
<path d="M713.83 1170.4V1177.8M710.33 1170.4H717.33M710.33 1177.8H717.33" stroke="#808080" stroke-width="2.9" fill="none"/>
<path d="M732.08 1127.51V1132.36M728.58 1127.51H735.58M728.58 1132.36H735.58" stroke="#08809A" stroke-width="2.9" fill="none"/>
<path d="M780.16 1068.16V1071.97M776.66 1068.16H783.66M776.66 1071.97H783.66" stroke="#FF6200" stroke-width="2.9" fill="none"/>
<path d="M798.26 1164.53V1166.27M794.76 1164.53H801.76M794.76 1166.27H801.76" stroke="#808080" stroke-width="2.9" fill="none"/>
<path d="M816.51 1120.37V1127.76M813.01 1120.37H820.01M813.01 1127.76H820.01" stroke="#08809A" stroke-width="2.9" fill="none"/>
<path d="M864.59 1125.99V1152.75M861.09 1125.99H868.09M861.09 1152.75H868.09" stroke="#FF6200" stroke-width="2.9" fill="none"/>
<path d="M882.69 1195.29V1207.84M879.19 1195.29H886.19M879.19 1207.84H886.19" stroke="#808080" stroke-width="2.9" fill="none"/>
<path d="M900.94 1097.73V1104.27M897.44 1097.73H904.44M897.44 1104.27H904.44" stroke="#08809A" stroke-width="2.9" fill="none"/>
<path d="M949.02 1118.73V1128.6M945.52 1118.73H952.52M945.52 1128.6H952.52" stroke="#FF6200" stroke-width="2.9" fill="none"/>
<path d="M967.12 1197.36V1209.84M963.62 1197.36H970.62M963.62 1209.84H970.62" stroke="#808080" stroke-width="2.9" fill="none"/>
<path d="M985.37 1142.57V1187.63M981.87 1142.57H988.87M981.87 1187.63H988.87" stroke="#08809A" stroke-width="2.9" fill="none"/>
<circle cx="171.2" cy="1157.1" r="7" fill="#000000"/>
<circle cx="171.2" cy="1162" r="7" fill="#000000"/>
<circle cx="171.2" cy="1165.9" r="7" fill="#000000"/>
<circle cx="273.58" cy="1161.4" r="7" fill="#FF6200"/>
<circle cx="273.58" cy="1164" r="7" fill="#FF6200"/>
<circle cx="273.58" cy="1168.1" r="7" fill="#FF6200"/>
<polygon points="291.68,1123 298.58,1129.9 291.68,1136.8 284.78,1129.9" fill="#808080"/>
<polygon points="291.68,1134.1 298.58,1141 291.68,1147.9 284.78,1141" fill="#808080"/>
<polygon points="291.68,1140 298.58,1146.9 291.68,1153.8 284.78,1146.9" fill="#808080"/>
<polygon points="309.93,1133.8 316.83,1140.7 309.93,1147.6 303.03,1140.7" fill="#08809A"/>
<polygon points="309.93,1144.1 316.83,1151 309.93,1157.9 303.03,1151" fill="#08809A"/>
<polygon points="309.93,1148.1 316.83,1155 309.93,1161.9 303.03,1155" fill="#08809A"/>
<circle cx="358.01" cy="1161.5" r="7" fill="#FF6200"/>
<circle cx="358.01" cy="1205.5" r="7" fill="#FF6200"/>
<circle cx="358.01" cy="1221.1" r="7" fill="#FF6200"/>
<polygon points="376.11,1128.1 383.01,1135 376.11,1141.9 369.21,1135" fill="#808080"/>
<polygon points="376.11,1156.6 383.01,1163.5 376.11,1170.4 369.21,1163.5" fill="#808080"/>
<polygon points="376.11,1174.9 383.01,1181.8 376.11,1188.7 369.21,1181.8" fill="#808080"/>
<polygon points="394.36,1150 401.26,1156.9 394.36,1163.8 387.46,1156.9" fill="#08809A"/>
<polygon points="394.36,1170.1 401.26,1177 394.36,1183.9 387.46,1177" fill="#08809A"/>
<polygon points="394.36,1177.1 401.26,1184 394.36,1190.9 387.46,1184" fill="#08809A"/>
<circle cx="442.44" cy="935.1" r="7" fill="#FF6200"/>
<circle cx="442.44" cy="964.3" r="7" fill="#FF6200"/>
<circle cx="442.44" cy="968.3" r="7" fill="#FF6200"/>
<polygon points="460.54,1140.2 467.44,1147.1 460.54,1154 453.64,1147.1" fill="#808080"/>
<polygon points="460.54,1155.8 467.44,1162.7 460.54,1169.6 453.64,1162.7" fill="#808080"/>
<polygon points="460.54,1161.5 467.44,1168.4 460.54,1175.3 453.64,1168.4" fill="#808080"/>
<polygon points="478.79,1010.3 485.69,1017.2 478.79,1024.1 471.89,1017.2" fill="#08809A"/>
<polygon points="478.79,1017.4 485.69,1024.3 478.79,1031.2 471.89,1024.3" fill="#08809A"/>
<polygon points="478.79,1040.4 485.69,1047.3 478.79,1054.2 471.89,1047.3" fill="#08809A"/>
<circle cx="526.87" cy="934.6" r="7" fill="#FF6200"/>
<circle cx="526.87" cy="938" r="7" fill="#FF6200"/>
<circle cx="526.87" cy="943.5" r="7" fill="#FF6200"/>
<polygon points="544.97,1140.2 551.87,1147.1 544.97,1154 538.07,1147.1" fill="#808080"/>
<polygon points="544.97,1162.9 551.87,1169.8 544.97,1176.7 538.07,1169.8" fill="#808080"/>
<polygon points="544.97,1165.1 551.87,1172 544.97,1178.9 538.07,1172" fill="#808080"/>
<polygon points="563.22,1052.9 570.12,1059.8 563.22,1066.7 556.32,1059.8" fill="#08809A"/>
<polygon points="563.22,1095.5 570.12,1102.4 563.22,1109.3 556.32,1102.4" fill="#08809A"/>
<polygon points="563.22,1117.7 570.12,1124.6 563.22,1131.5 556.32,1124.6" fill="#08809A"/>
<circle cx="611.3" cy="1002.1" r="7" fill="#FF6200"/>
<circle cx="611.3" cy="1008" r="7" fill="#FF6200"/>
<circle cx="611.3" cy="1013.6" r="7" fill="#FF6200"/>
<polygon points="629.4,1156.2 636.3,1163.1 629.4,1170 622.5,1163.1" fill="#808080"/>
<polygon points="629.4,1172.7 636.3,1179.6 629.4,1186.5 622.5,1179.6" fill="#808080"/>
<polygon points="629.4,1180.7 636.3,1187.6 629.4,1194.5 622.5,1187.6" fill="#808080"/>
<polygon points="647.65,1069.7 654.55,1076.6 647.65,1083.5 640.75,1076.6" fill="#08809A"/>
<polygon points="647.65,1105.2 654.55,1112.1 647.65,1119 640.75,1112.1" fill="#08809A"/>
<polygon points="647.65,1108.8 654.55,1115.7 647.65,1122.6 640.75,1115.7" fill="#08809A"/>
<circle cx="695.73" cy="1051.4" r="7" fill="#FF6200"/>
<circle cx="695.73" cy="1069.6" r="7" fill="#FF6200"/>
<circle cx="695.73" cy="1083" r="7" fill="#FF6200"/>
<polygon points="713.83,1160.8 720.73,1167.7 713.83,1174.6 706.93,1167.7" fill="#808080"/>
<polygon points="713.83,1167.2 720.73,1174.1 713.83,1181 706.93,1174.1" fill="#808080"/>
<polygon points="713.83,1173.6 720.73,1180.5 713.83,1187.4 706.93,1180.5" fill="#808080"/>
<polygon points="732.08,1118.8 738.98,1125.7 732.08,1132.6 725.18,1125.7" fill="#08809A"/>
<polygon points="732.08,1123.1 738.98,1130 732.08,1136.9 725.18,1130" fill="#08809A"/>
<polygon points="732.08,1127.2 738.98,1134.1 732.08,1141 725.18,1134.1" fill="#08809A"/>
<circle cx="780.16" cy="1066.8" r="7" fill="#FF6200"/>
<circle cx="780.16" cy="1070" r="7" fill="#FF6200"/>
<circle cx="780.16" cy="1073.4" r="7" fill="#FF6200"/>
<polygon points="798.26,1157.1 805.16,1164 798.26,1170.9 791.36,1164" fill="#808080"/>
<polygon points="798.26,1158.3 805.16,1165.2 798.26,1172.1 791.36,1165.2" fill="#808080"/>
<polygon points="798.26,1160.1 805.16,1167 798.26,1173.9 791.36,1167" fill="#808080"/>
<polygon points="816.51,1110.8 823.41,1117.7 816.51,1124.6 809.61,1117.7" fill="#08809A"/>
<polygon points="816.51,1117.1 823.41,1124 816.51,1130.9 809.61,1124" fill="#08809A"/>
<polygon points="816.51,1123.6 823.41,1130.5 816.51,1137.4 809.61,1130.5" fill="#08809A"/>
<circle cx="864.59" cy="1125" r="7" fill="#FF6200"/>
<circle cx="864.59" cy="1127" r="7" fill="#FF6200"/>
<circle cx="864.59" cy="1166.1" r="7" fill="#FF6200"/>
<polygon points="882.69,1182.4 889.59,1189.3 882.69,1196.2 875.79,1189.3" fill="#808080"/>
<polygon points="882.69,1198.5 889.59,1205.4 882.69,1212.3 875.79,1205.4" fill="#808080"/>
<polygon points="882.69,1203.1 889.59,1210 882.69,1216.9 875.79,1210" fill="#808080"/>
<polygon points="900.94,1087.7 907.84,1094.6 900.94,1101.5 894.04,1094.6" fill="#08809A"/>
<polygon points="900.94,1096.1 907.84,1103 900.94,1109.9 894.04,1103" fill="#08809A"/>
<polygon points="900.94,1098.5 907.84,1105.4 900.94,1112.3 894.04,1105.4" fill="#08809A"/>
<circle cx="949.02" cy="1113.8" r="7" fill="#FF6200"/>
<circle cx="949.02" cy="1128.6" r="7" fill="#FF6200"/>
<circle cx="949.02" cy="1128.6" r="7" fill="#FF6200"/>
<polygon points="967.12,1185.1 974.02,1192 967.12,1198.9 960.22,1192" fill="#808080"/>
<polygon points="967.12,1198.5 974.02,1205.4 967.12,1212.3 960.22,1205.4" fill="#808080"/>
<polygon points="967.12,1206.5 974.02,1213.4 967.12,1220.3 960.22,1213.4" fill="#808080"/>
<polygon points="985.37,1123.8 992.27,1130.7 985.37,1137.6 978.47,1130.7" fill="#08809A"/>
<polygon points="985.37,1150.2 992.27,1157.1 985.37,1164 978.47,1157.1" fill="#08809A"/>
<polygon points="985.37,1200.6 992.27,1207.5 985.37,1214.4 978.47,1207.5" fill="#08809A"/>
<path d="M159 816.7V1242" stroke="#000" stroke-width="3" fill="none"/>
<path d="M150 1239H998.5" stroke="#000" stroke-width="3" fill="none" stroke-linecap="round"/>
<path d="M150 1239H159" stroke="#000" stroke-width="3"/>
<text x="147.7" y="1249.5" text-anchor="end" font-size="29.8" textLength="16.35" lengthAdjust="spacingAndGlyphs">0</text>
<path d="M150 1133.9H159" stroke="#000" stroke-width="3"/>
<text x="147.7" y="1144.4" text-anchor="end" font-size="29.8" textLength="65.41" lengthAdjust="spacingAndGlyphs">5000</text>
<path d="M150 1028.6H159" stroke="#000" stroke-width="3"/>
<text x="147.7" y="1039.1" text-anchor="end" font-size="29.8" textLength="81.76" lengthAdjust="spacingAndGlyphs">10000</text>
<path d="M150 923.3H159" stroke="#000" stroke-width="3"/>
<text x="147.7" y="933.8" text-anchor="end" font-size="29.8" textLength="81.76" lengthAdjust="spacingAndGlyphs">15000</text>
<path d="M150 818.2H159" stroke="#000" stroke-width="3"/>
<text x="147.7" y="828.7" text-anchor="end" font-size="29.8" textLength="81.76" lengthAdjust="spacingAndGlyphs">20000</text>
<path d="M198 1239V1247.5" stroke="#000" stroke-width="3" stroke-linecap="round"/>
<text transform="translate(208.5 1272.4) rotate(-45)" text-anchor="end" font-size="30.4" textLength="117.78" lengthAdjust="spacingAndGlyphs">pre-dose</text>
<path d="M282.43 1239V1247.5" stroke="#000" stroke-width="3" stroke-linecap="round"/>
<text transform="translate(292.93 1272.4) rotate(-45)" text-anchor="end" font-size="30.4" textLength="132.7" lengthAdjust="spacingAndGlyphs">Day 0_2H</text>
<path d="M366.86 1239V1247.5" stroke="#000" stroke-width="3" stroke-linecap="round"/>
<text transform="translate(377.36 1272.4) rotate(-45)" text-anchor="end" font-size="30.4" textLength="77.95" lengthAdjust="spacingAndGlyphs">Day 1</text>
<path d="M451.29 1239V1247.5" stroke="#000" stroke-width="3" stroke-linecap="round"/>
<text transform="translate(461.79 1272.4) rotate(-45)" text-anchor="end" font-size="30.4" textLength="77.95" lengthAdjust="spacingAndGlyphs">Day 2</text>
<path d="M535.72 1239V1247.5" stroke="#000" stroke-width="3" stroke-linecap="round"/>
<text transform="translate(546.22 1272.4) rotate(-45)" text-anchor="end" font-size="30.4" textLength="77.95" lengthAdjust="spacingAndGlyphs">Day 3</text>
<path d="M620.15 1239V1247.5" stroke="#000" stroke-width="3" stroke-linecap="round"/>
<text transform="translate(630.65 1272.4) rotate(-45)" text-anchor="end" font-size="30.4" textLength="77.95" lengthAdjust="spacingAndGlyphs">Day 4</text>
<path d="M704.58 1239V1247.5" stroke="#000" stroke-width="3" stroke-linecap="round"/>
<text transform="translate(715.08 1272.4) rotate(-45)" text-anchor="end" font-size="30.4" textLength="77.95" lengthAdjust="spacingAndGlyphs">Day 5</text>
<path d="M789.01 1239V1247.5" stroke="#000" stroke-width="3" stroke-linecap="round"/>
<text transform="translate(799.51 1272.4) rotate(-45)" text-anchor="end" font-size="30.4" textLength="77.95" lengthAdjust="spacingAndGlyphs">Day 6</text>
<path d="M873.44 1239V1247.5" stroke="#000" stroke-width="3" stroke-linecap="round"/>
<text transform="translate(883.94 1272.4) rotate(-45)" text-anchor="end" font-size="30.4" textLength="77.95" lengthAdjust="spacingAndGlyphs">Day 7</text>
<path d="M957.87 1239V1247.5" stroke="#000" stroke-width="3" stroke-linecap="round"/>
<text transform="translate(968.37 1272.4) rotate(-45)" text-anchor="end" font-size="30.4" textLength="77.95" lengthAdjust="spacingAndGlyphs">Day 8</text>
<text x="469.7" y="1372.2" text-anchor="middle" font-size="29.4" font-weight="bold">Time points</text>
<text transform="translate(50.6 1024.1) rotate(-90)" text-anchor="middle" font-size="29.5" font-weight="bold">Blood Treg Helios MFI</text>
<text x="3.3" y="780" font-size="51" font-weight="bold">c</text>
<path d="M1166.85 1248.1V1135.5H1176.15V1248.1" fill="none" stroke="#000000" stroke-width="3"/>
<path d="M1269.25 1248.1V1133.93H1278.55V1248.1" fill="none" stroke="#FF6200" stroke-width="3"/>
<path d="M1287.35 1248.1V1183.87H1296.65V1248.1" fill="none" stroke="#808080" stroke-width="3"/>
<path d="M1305.6 1248.1V1183.27H1314.9V1248.1" fill="none" stroke="#08809A" stroke-width="3"/>
<path d="M1353.7 1248.1V1121.67H1363V1248.1" fill="none" stroke="#FF6200" stroke-width="3"/>
<path d="M1371.8 1248.1V1186.97H1381.1V1248.1" fill="none" stroke="#808080" stroke-width="3"/>
<path d="M1390.05 1248.1V1169.1H1399.35V1248.1" fill="none" stroke="#08809A" stroke-width="3"/>
<path d="M1438.15 1248.1V976.8H1447.45V1248.1" fill="none" stroke="#FF6200" stroke-width="3"/>
<path d="M1456.25 1248.1V1186.27H1465.55V1248.1" fill="none" stroke="#808080" stroke-width="3"/>
<path d="M1474.5 1248.1V1092.8H1483.8V1248.1" fill="none" stroke="#08809A" stroke-width="3"/>
<path d="M1522.6 1248.1V1006.9H1531.9V1248.1" fill="none" stroke="#FF6200" stroke-width="3"/>
<path d="M1540.7 1248.1V1171.87H1550V1248.1" fill="none" stroke="#808080" stroke-width="3"/>
<path d="M1558.95 1248.1V1137.6H1568.25V1248.1" fill="none" stroke="#08809A" stroke-width="3"/>
<path d="M1607.05 1248.1V1078.1H1616.35V1248.1" fill="none" stroke="#FF6200" stroke-width="3"/>
<path d="M1625.15 1248.1V1176.97H1634.45V1248.1" fill="none" stroke="#808080" stroke-width="3"/>
<path d="M1643.4 1248.1V1158.07H1652.7V1248.1" fill="none" stroke="#08809A" stroke-width="3"/>
<path d="M1691.5 1248.1V1106.47H1700.8V1248.1" fill="none" stroke="#FF6200" stroke-width="3"/>
<path d="M1709.6 1248.1V1181.1H1718.9V1248.1" fill="none" stroke="#808080" stroke-width="3"/>
<path d="M1727.85 1248.1V1169.07H1737.15V1248.1" fill="none" stroke="#08809A" stroke-width="3"/>
<path d="M1775.95 1248.1V1115.87H1785.25V1248.1" fill="none" stroke="#FF6200" stroke-width="3"/>
<path d="M1794.05 1248.1V1191.5H1803.35V1248.1" fill="none" stroke="#808080" stroke-width="3"/>
<path d="M1812.3 1248.1V1179.87H1821.6V1248.1" fill="none" stroke="#08809A" stroke-width="3"/>
<path d="M1860.4 1248.1V1146.17H1869.7V1248.1" fill="none" stroke="#FF6200" stroke-width="3"/>
<path d="M1878.5 1248.1V1177.73H1887.8V1248.1" fill="none" stroke="#808080" stroke-width="3"/>
<path d="M1896.75 1248.1V1181.73H1906.05V1248.1" fill="none" stroke="#08809A" stroke-width="3"/>
<path d="M1944.85 1248.1V1145.23H1954.15V1248.1" fill="none" stroke="#FF6200" stroke-width="3"/>
<path d="M1962.95 1248.1V1192.7H1972.25V1248.1" fill="none" stroke="#808080" stroke-width="3"/>
<path d="M1981.2 1248.1V1186.83H1990.5V1248.1" fill="none" stroke="#08809A" stroke-width="3"/>
<path d="M1171.5 1126.67V1144.33M1168 1126.67H1175M1168 1144.33H1175" stroke="#000000" stroke-width="2.9" fill="none"/>
<path d="M1273.9 1127.17V1140.7M1270.4 1127.17H1277.4M1270.4 1140.7H1277.4" stroke="#FF6200" stroke-width="2.9" fill="none"/>
<path d="M1292 1181.09V1186.64M1288.5 1181.09H1295.5M1288.5 1186.64H1295.5" stroke="#808080" stroke-width="2.9" fill="none"/>
<path d="M1310.25 1182.1V1184.43M1306.75 1182.1H1313.75M1306.75 1184.43H1313.75" stroke="#08809A" stroke-width="2.9" fill="none"/>
<path d="M1358.35 1116.16V1127.18M1354.85 1116.16H1361.85M1354.85 1127.18H1361.85" stroke="#FF6200" stroke-width="2.9" fill="none"/>
<path d="M1376.45 1183.3V1190.63M1372.95 1183.3H1379.95M1372.95 1190.63H1379.95" stroke="#808080" stroke-width="2.9" fill="none"/>
<path d="M1394.7 1163.97V1174.23M1391.2 1163.97H1398.2M1391.2 1174.23H1398.2" stroke="#08809A" stroke-width="2.9" fill="none"/>
<path d="M1442.8 941.82V1011.78M1439.3 941.82H1446.3M1439.3 1011.78H1446.3" stroke="#FF6200" stroke-width="2.9" fill="none"/>
<path d="M1460.9 1183.72V1188.81M1457.4 1183.72H1464.4M1457.4 1188.81H1464.4" stroke="#808080" stroke-width="2.9" fill="none"/>
<path d="M1479.15 1087.21V1098.39M1475.65 1087.21H1482.65M1475.65 1098.39H1482.65" stroke="#08809A" stroke-width="2.9" fill="none"/>
<path d="M1527.25 999.34V1014.46M1523.75 999.34H1530.75M1523.75 1014.46H1530.75" stroke="#FF6200" stroke-width="2.9" fill="none"/>
<path d="M1545.35 1169.9V1173.83M1541.85 1169.9H1548.85M1541.85 1173.83H1548.85" stroke="#808080" stroke-width="2.9" fill="none"/>
<path d="M1563.6 1130.34V1144.86M1560.1 1130.34H1567.1M1560.1 1144.86H1567.1" stroke="#08809A" stroke-width="2.9" fill="none"/>
<path d="M1611.7 1071.22V1084.98M1608.2 1071.22H1615.2M1608.2 1084.98H1615.2" stroke="#FF6200" stroke-width="2.9" fill="none"/>
<path d="M1629.8 1168.85V1185.08M1626.3 1168.85H1633.3M1626.3 1185.08H1633.3" stroke="#808080" stroke-width="2.9" fill="none"/>
<path d="M1648.05 1157.2V1158.93M1644.55 1157.2H1651.55M1644.55 1158.93H1651.55" stroke="#08809A" stroke-width="2.9" fill="none"/>
<path d="M1696.15 1105.6V1107.33M1692.65 1105.6H1699.65M1692.65 1107.33H1699.65" stroke="#FF6200" stroke-width="2.9" fill="none"/>
<path d="M1714.25 1179.8V1182.4M1710.75 1179.8H1717.75M1710.75 1182.4H1717.75" stroke="#808080" stroke-width="2.9" fill="none"/>
<path d="M1732.5 1166.47V1171.66M1729 1166.47H1736M1729 1171.66H1736" stroke="#08809A" stroke-width="2.9" fill="none"/>
<path d="M1780.6 1112.52V1119.22M1777.1 1112.52H1784.1M1777.1 1119.22H1784.1" stroke="#FF6200" stroke-width="2.9" fill="none"/>
<path d="M1798.7 1190.63V1192.37M1795.2 1190.63H1802.2M1795.2 1192.37H1802.2" stroke="#808080" stroke-width="2.9" fill="none"/>
<path d="M1816.95 1178.83V1180.91M1813.45 1178.83H1820.45M1813.45 1180.91H1820.45" stroke="#08809A" stroke-width="2.9" fill="none"/>
<path d="M1865.05 1145.38V1146.95M1861.55 1145.38H1868.55M1861.55 1146.95H1868.55" stroke="#FF6200" stroke-width="2.9" fill="none"/>
<path d="M1883.15 1175.42V1180.05M1879.65 1175.42H1886.65M1879.65 1180.05H1886.65" stroke="#808080" stroke-width="2.9" fill="none"/>
<path d="M1901.4 1179.65V1183.82M1897.9 1179.65H1904.9M1897.9 1183.82H1904.9" stroke="#08809A" stroke-width="2.9" fill="none"/>
<path d="M1949.5 1139.27V1151.2M1946 1139.27H1953M1946 1151.2H1953" stroke="#FF6200" stroke-width="2.9" fill="none"/>
<path d="M1967.6 1189.4V1196M1964.1 1189.4H1971.1M1964.1 1196H1971.1" stroke="#808080" stroke-width="2.9" fill="none"/>
<path d="M1985.85 1183.97V1189.7M1982.35 1183.97H1989.35M1982.35 1189.7H1989.35" stroke="#08809A" stroke-width="2.9" fill="none"/>
<circle cx="1171.5" cy="1117.9" r="7" fill="#000000"/>
<circle cx="1171.5" cy="1143.1" r="7" fill="#000000"/>
<circle cx="1171.5" cy="1145.5" r="7" fill="#000000"/>
<circle cx="1273.9" cy="1120.4" r="7" fill="#FF6200"/>
<circle cx="1273.9" cy="1140.7" r="7" fill="#FF6200"/>
<circle cx="1273.9" cy="1140.7" r="7" fill="#FF6200"/>
<polygon points="1292,1172.1 1298.9,1179 1292,1185.9 1285.1,1179" fill="#808080"/>
<polygon points="1292,1177.1 1298.9,1184 1292,1190.9 1285.1,1184" fill="#808080"/>
<polygon points="1292,1181.7 1298.9,1188.6 1292,1195.5 1285.1,1188.6" fill="#808080"/>
<polygon points="1310.25,1174.5 1317.15,1181.4 1310.25,1188.3 1303.35,1181.4" fill="#08809A"/>
<polygon points="1310.25,1176.1 1317.15,1183 1310.25,1189.9 1303.35,1183" fill="#08809A"/>
<polygon points="1310.25,1178.5 1317.15,1185.4 1310.25,1192.3 1303.35,1185.4" fill="#08809A"/>
<circle cx="1358.35" cy="1110.8" r="7" fill="#FF6200"/>
<circle cx="1358.35" cy="1125.5" r="7" fill="#FF6200"/>
<circle cx="1358.35" cy="1128.7" r="7" fill="#FF6200"/>
<polygon points="1376.45,1173.7 1383.35,1180.6 1376.45,1187.5 1369.55,1180.6" fill="#808080"/>
<polygon points="1376.45,1180.1 1383.35,1187 1376.45,1193.9 1369.55,1187" fill="#808080"/>
<polygon points="1376.45,1186.4 1383.35,1193.3 1376.45,1200.2 1369.55,1193.3" fill="#808080"/>
<polygon points="1394.7,1156.1 1401.6,1163 1394.7,1169.9 1387.8,1163" fill="#08809A"/>
<polygon points="1394.7,1158.1 1401.6,1165 1394.7,1171.9 1387.8,1165" fill="#08809A"/>
<polygon points="1394.7,1172.4 1401.6,1179.3 1394.7,1186.2 1387.8,1179.3" fill="#08809A"/>
<circle cx="1442.8" cy="929.9" r="7" fill="#FF6200"/>
<circle cx="1442.8" cy="955.3" r="7" fill="#FF6200"/>
<circle cx="1442.8" cy="1045.2" r="7" fill="#FF6200"/>
<polygon points="1460.9,1175.1 1467.8,1182 1460.9,1188.9 1454,1182" fill="#808080"/>
<polygon points="1460.9,1179.1 1467.8,1186 1460.9,1192.9 1454,1186" fill="#808080"/>
<polygon points="1460.9,1183.9 1467.8,1190.8 1460.9,1197.7 1454,1190.8" fill="#808080"/>
<polygon points="1479.15,1074.9 1486.05,1081.8 1479.15,1088.7 1472.25,1081.8" fill="#08809A"/>
<polygon points="1479.15,1089.7 1486.05,1096.6 1479.15,1103.5 1472.25,1096.6" fill="#08809A"/>
<polygon points="1479.15,1093.1 1486.05,1100 1479.15,1106.9 1472.25,1100" fill="#08809A"/>
<circle cx="1527.25" cy="991.8" r="7" fill="#FF6200"/>
<circle cx="1527.25" cy="1013.9" r="7" fill="#FF6200"/>
<circle cx="1527.25" cy="1015" r="7" fill="#FF6200"/>
<polygon points="1545.35,1161.5 1552.25,1168.4 1545.35,1175.3 1538.45,1168.4" fill="#808080"/>
<polygon points="1545.35,1165.1 1552.25,1172 1545.35,1178.9 1538.45,1172" fill="#808080"/>
<polygon points="1545.35,1168.3 1552.25,1175.2 1545.35,1182.1 1538.45,1175.2" fill="#808080"/>
<polygon points="1563.6,1117.1 1570.5,1124 1563.6,1130.9 1556.7,1124" fill="#08809A"/>
<polygon points="1563.6,1133.1 1570.5,1140 1563.6,1146.9 1556.7,1140" fill="#08809A"/>
<polygon points="1563.6,1141.9 1570.5,1148.8 1563.6,1155.7 1556.7,1148.8" fill="#08809A"/>
<circle cx="1611.7" cy="1067.7" r="7" fill="#FF6200"/>
<circle cx="1611.7" cy="1075.5" r="7" fill="#FF6200"/>
<circle cx="1611.7" cy="1091.1" r="7" fill="#FF6200"/>
<polygon points="1629.8,1154 1636.7,1160.9 1629.8,1167.8 1622.9,1160.9" fill="#808080"/>
<polygon points="1629.8,1176.1 1636.7,1183 1629.8,1189.9 1622.9,1183" fill="#808080"/>
<polygon points="1629.8,1180.1 1636.7,1187 1629.8,1193.9 1622.9,1187" fill="#808080"/>
<polygon points="1648.05,1149.7 1654.95,1156.6 1648.05,1163.5 1641.15,1156.6" fill="#08809A"/>
<polygon points="1648.05,1151.1 1654.95,1158 1648.05,1164.9 1641.15,1158" fill="#08809A"/>
<polygon points="1648.05,1152.7 1654.95,1159.6 1648.05,1166.5 1641.15,1159.6" fill="#08809A"/>
<circle cx="1696.15" cy="1105" r="7" fill="#FF6200"/>
<circle cx="1696.15" cy="1106.4" r="7" fill="#FF6200"/>
<circle cx="1696.15" cy="1108" r="7" fill="#FF6200"/>
<polygon points="1714.25,1172 1721.15,1178.9 1714.25,1185.8 1707.35,1178.9" fill="#808080"/>
<polygon points="1714.25,1174.1 1721.15,1181 1714.25,1187.9 1707.35,1181" fill="#808080"/>
<polygon points="1714.25,1176.5 1721.15,1183.4 1714.25,1190.3 1707.35,1183.4" fill="#808080"/>
<polygon points="1732.5,1157.7 1739.4,1164.6 1732.5,1171.5 1725.6,1164.6" fill="#08809A"/>
<polygon points="1732.5,1162.1 1739.4,1169 1732.5,1175.9 1725.6,1169" fill="#08809A"/>
<polygon points="1732.5,1166.7 1739.4,1173.6 1732.5,1180.5 1725.6,1173.6" fill="#08809A"/>
<circle cx="1780.6" cy="1110" r="7" fill="#FF6200"/>
<circle cx="1780.6" cy="1116" r="7" fill="#FF6200"/>
<circle cx="1780.6" cy="1121.6" r="7" fill="#FF6200"/>
<polygon points="1798.7,1183.1 1805.6,1190 1798.7,1196.9 1791.8,1190" fill="#808080"/>
<polygon points="1798.7,1184.6 1805.6,1191.5 1798.7,1198.4 1791.8,1191.5" fill="#808080"/>
<polygon points="1798.7,1186.1 1805.6,1193 1798.7,1199.9 1791.8,1193" fill="#808080"/>
<polygon points="1816.95,1171.1 1823.85,1178 1816.95,1184.9 1810.05,1178" fill="#08809A"/>
<polygon points="1816.95,1173.1 1823.85,1180 1816.95,1186.9 1810.05,1180" fill="#08809A"/>
<polygon points="1816.95,1174.7 1823.85,1181.6 1816.95,1188.5 1810.05,1181.6" fill="#08809A"/>
<circle cx="1865.05" cy="1144.9" r="7" fill="#FF6200"/>
<circle cx="1865.05" cy="1146" r="7" fill="#FF6200"/>
<circle cx="1865.05" cy="1147.6" r="7" fill="#FF6200"/>
<polygon points="1883.15,1166.7 1890.05,1173.6 1883.15,1180.5 1876.25,1173.6" fill="#808080"/>
<polygon points="1883.15,1171.1 1890.05,1178 1883.15,1184.9 1876.25,1178" fill="#808080"/>
<polygon points="1883.15,1174.7 1890.05,1181.6 1883.15,1188.5 1876.25,1181.6" fill="#808080"/>
<polygon points="1901.4,1171.1 1908.3,1178 1901.4,1184.9 1894.5,1178" fill="#08809A"/>
<polygon points="1901.4,1175.1 1908.3,1182 1901.4,1188.9 1894.5,1182" fill="#08809A"/>
<polygon points="1901.4,1178.3 1908.3,1185.2 1901.4,1192.1 1894.5,1185.2" fill="#08809A"/>
<circle cx="1949.5" cy="1133.3" r="7" fill="#FF6200"/>
<circle cx="1949.5" cy="1151.2" r="7" fill="#FF6200"/>
<circle cx="1949.5" cy="1151.2" r="7" fill="#FF6200"/>
<polygon points="1967.6,1179.2 1974.5,1186.1 1967.6,1193 1960.7,1186.1" fill="#808080"/>
<polygon points="1967.6,1189.1 1974.5,1196 1967.6,1202.9 1960.7,1196" fill="#808080"/>
<polygon points="1967.6,1189.1 1974.5,1196 1967.6,1202.9 1960.7,1196" fill="#808080"/>
<polygon points="1985.85,1174.2 1992.75,1181.1 1985.85,1188 1978.95,1181.1" fill="#08809A"/>
<polygon points="1985.85,1182.8 1992.75,1189.7 1985.85,1196.6 1978.95,1189.7" fill="#08809A"/>
<polygon points="1985.85,1182.8 1992.75,1189.7 1985.85,1196.6 1978.95,1189.7" fill="#08809A"/>
<path d="M1159 828V1252.5" stroke="#000" stroke-width="3" fill="none"/>
<path d="M1150 1249.5H2001.5" stroke="#000" stroke-width="3" fill="none" stroke-linecap="round"/>
<path d="M1150 1249.5H1159" stroke="#000" stroke-width="3"/>
<text x="1147.7" y="1260" text-anchor="end" font-size="29.8" textLength="16.35" lengthAdjust="spacingAndGlyphs">0</text>
<path d="M1150 1110.2H1159" stroke="#000" stroke-width="3"/>
<text x="1147.7" y="1120.7" text-anchor="end" font-size="29.8" textLength="49.05" lengthAdjust="spacingAndGlyphs">500</text>
<path d="M1150 970H1159" stroke="#000" stroke-width="3"/>
<text x="1147.7" y="980.5" text-anchor="end" font-size="29.8" textLength="65.41" lengthAdjust="spacingAndGlyphs">1000</text>
<path d="M1150 829.5H1159" stroke="#000" stroke-width="3"/>
<text x="1147.7" y="840" text-anchor="end" font-size="29.8" textLength="65.41" lengthAdjust="spacingAndGlyphs">1500</text>
<path d="M1198.3 1249.5V1258" stroke="#000" stroke-width="3" stroke-linecap="round"/>
<text transform="translate(1208.8 1282.9) rotate(-45)" text-anchor="end" font-size="30.4" textLength="117.78" lengthAdjust="spacingAndGlyphs">pre-dose</text>
<path d="M1282.75 1249.5V1258" stroke="#000" stroke-width="3" stroke-linecap="round"/>
<text transform="translate(1293.25 1282.9) rotate(-45)" text-anchor="end" font-size="30.4" textLength="132.7" lengthAdjust="spacingAndGlyphs">Day 0_2H</text>
<path d="M1367.2 1249.5V1258" stroke="#000" stroke-width="3" stroke-linecap="round"/>
<text transform="translate(1377.7 1282.9) rotate(-45)" text-anchor="end" font-size="30.4" textLength="77.95" lengthAdjust="spacingAndGlyphs">Day 1</text>
<path d="M1451.65 1249.5V1258" stroke="#000" stroke-width="3" stroke-linecap="round"/>
<text transform="translate(1462.15 1282.9) rotate(-45)" text-anchor="end" font-size="30.4" textLength="77.95" lengthAdjust="spacingAndGlyphs">Day 2</text>
<path d="M1536.1 1249.5V1258" stroke="#000" stroke-width="3" stroke-linecap="round"/>
<text transform="translate(1546.6 1282.9) rotate(-45)" text-anchor="end" font-size="30.4" textLength="77.95" lengthAdjust="spacingAndGlyphs">Day 3</text>
<path d="M1620.55 1249.5V1258" stroke="#000" stroke-width="3" stroke-linecap="round"/>
<text transform="translate(1631.05 1282.9) rotate(-45)" text-anchor="end" font-size="30.4" textLength="77.95" lengthAdjust="spacingAndGlyphs">Day 4</text>
<path d="M1705 1249.5V1258" stroke="#000" stroke-width="3" stroke-linecap="round"/>
<text transform="translate(1715.5 1282.9) rotate(-45)" text-anchor="end" font-size="30.4" textLength="77.95" lengthAdjust="spacingAndGlyphs">Day 5</text>
<path d="M1789.45 1249.5V1258" stroke="#000" stroke-width="3" stroke-linecap="round"/>
<text transform="translate(1799.95 1282.9) rotate(-45)" text-anchor="end" font-size="30.4" textLength="77.95" lengthAdjust="spacingAndGlyphs">Day 6</text>
<path d="M1873.9 1249.5V1258" stroke="#000" stroke-width="3" stroke-linecap="round"/>
<text transform="translate(1884.4 1282.9) rotate(-45)" text-anchor="end" font-size="30.4" textLength="77.95" lengthAdjust="spacingAndGlyphs">Day 7</text>
<path d="M1958.35 1249.5V1258" stroke="#000" stroke-width="3" stroke-linecap="round"/>
<text transform="translate(1968.85 1282.9) rotate(-45)" text-anchor="end" font-size="30.4" textLength="77.95" lengthAdjust="spacingAndGlyphs">Day 8</text>
<text x="1508.5" y="1392.9" text-anchor="middle" font-size="29.4" font-weight="bold">Time points</text>
<text transform="translate(1068.3 1033.5) rotate(-90)" text-anchor="middle" font-size="29.5" font-weight="bold">Blood Treg ICOS MFI</text>
<text x="1000" y="777.5" font-size="51" font-weight="bold">d</text>
<path d="M166.25 1896.6V1887.43H175.55V1896.6" fill="none" stroke="#000000" stroke-width="3"/>
<path d="M268.65 1896.6V1886.4H277.95V1896.6" fill="none" stroke="#FF6200" stroke-width="3"/>
<path d="M286.75 1896.6V1886.97H296.05V1896.6" fill="none" stroke="#808080" stroke-width="3"/>
<path d="M305 1896.6V1886.63H314.3V1896.6" fill="none" stroke="#08809A" stroke-width="3"/>
<path d="M353.1 1896.6V1884.17H362.4V1896.6" fill="none" stroke="#FF6200" stroke-width="3"/>
<path d="M371.2 1896.6V1885.13H380.5V1896.6" fill="none" stroke="#808080" stroke-width="3"/>
<path d="M389.45 1896.6V1883.7H398.75V1896.6" fill="none" stroke="#08809A" stroke-width="3"/>
<path d="M437.55 1896.6V1571.5H446.85V1896.6" fill="none" stroke="#FF6200" stroke-width="3"/>
<path d="M455.65 1896.6V1887.07H464.95V1896.6" fill="none" stroke="#808080" stroke-width="3"/>
<path d="M473.9 1896.6V1678H483.2V1896.6" fill="none" stroke="#08809A" stroke-width="3"/>
<path d="M522 1896.6V1606.5H531.3V1896.6" fill="none" stroke="#FF6200" stroke-width="3"/>
<path d="M540.1 1896.6V1889.47H549.4V1896.6" fill="none" stroke="#808080" stroke-width="3"/>
<path d="M558.35 1896.6V1768.87H567.65V1896.6" fill="none" stroke="#08809A" stroke-width="3"/>
<path d="M606.45 1896.6V1755.63H615.75V1896.6" fill="none" stroke="#FF6200" stroke-width="3"/>
<path d="M624.55 1896.6V1889.83H633.85V1896.6" fill="none" stroke="#808080" stroke-width="3"/>
<path d="M642.8 1896.6V1822.1H652.1V1896.6" fill="none" stroke="#08809A" stroke-width="3"/>
<path d="M690.9 1896.6V1840.73H700.2V1896.6" fill="none" stroke="#FF6200" stroke-width="3"/>
<path d="M709 1896.6V1888.4H718.3V1896.6" fill="none" stroke="#808080" stroke-width="3"/>
<path d="M727.25 1896.6V1848.23H736.55V1896.6" fill="none" stroke="#08809A" stroke-width="3"/>
<path d="M775.35 1896.6V1854.67H784.65V1896.6" fill="none" stroke="#FF6200" stroke-width="3"/>
<path d="M793.45 1896.6V1888.4H802.75V1896.6" fill="none" stroke="#808080" stroke-width="3"/>
<path d="M811.7 1896.6V1863.3H821V1896.6" fill="none" stroke="#08809A" stroke-width="3"/>
<path d="M859.8 1896.6V1881.17H869.1V1896.6" fill="none" stroke="#FF6200" stroke-width="3"/>
<path d="M877.9 1896.6V1880.2H887.2V1896.6" fill="none" stroke="#808080" stroke-width="3"/>
<path d="M896.15 1896.6V1858.33H905.45V1896.6" fill="none" stroke="#08809A" stroke-width="3"/>
<path d="M944.25 1896.6V1879.3H953.55V1896.6" fill="none" stroke="#FF6200" stroke-width="3"/>
<path d="M962.35 1896.6V1888.4H971.65V1896.6" fill="none" stroke="#808080" stroke-width="3"/>
<path d="M980.6 1896.6V1879H989.9V1896.6" fill="none" stroke="#08809A" stroke-width="3"/>
<path d="M170.9 1886.74V1888.13M167.4 1886.74H174.4M167.4 1888.13H174.4" stroke="#000000" stroke-width="2.9" fill="none"/>
<path d="M273.3 1885.5V1887.3M269.8 1885.5H276.8M269.8 1887.3H276.8" stroke="#FF6200" stroke-width="2.9" fill="none"/>
<path d="M291.4 1886.65V1887.28M287.9 1886.65H294.9M287.9 1887.28H294.9" stroke="#808080" stroke-width="2.9" fill="none"/>
<path d="M357.75 1883.67V1884.66M354.25 1883.67H361.25M354.25 1884.66H361.25" stroke="#FF6200" stroke-width="2.9" fill="none"/>
<path d="M394.1 1882.05V1885.35M390.6 1882.05H397.6M390.6 1885.35H397.6" stroke="#08809A" stroke-width="2.9" fill="none"/>
<path d="M442.2 1513.76V1629.24M438.7 1513.76H445.7M438.7 1629.24H445.7" stroke="#FF6200" stroke-width="2.9" fill="none"/>
<path d="M460.3 1886.49V1887.65M456.8 1886.49H463.8M456.8 1887.65H463.8" stroke="#808080" stroke-width="2.9" fill="none"/>
<path d="M478.55 1667.48V1688.52M475.05 1667.48H482.05M475.05 1688.52H482.05" stroke="#08809A" stroke-width="2.9" fill="none"/>
<path d="M526.65 1601.96V1611.04M523.15 1601.96H530.15M523.15 1611.04H530.15" stroke="#FF6200" stroke-width="2.9" fill="none"/>
<path d="M563 1761.49V1776.24M559.5 1761.49H566.5M559.5 1776.24H566.5" stroke="#08809A" stroke-width="2.9" fill="none"/>
<path d="M611.1 1749.84V1761.43M607.6 1749.84H614.6M607.6 1761.43H614.6" stroke="#FF6200" stroke-width="2.9" fill="none"/>
<path d="M647.45 1817.9V1826.3M643.95 1817.9H650.95M643.95 1826.3H650.95" stroke="#08809A" stroke-width="2.9" fill="none"/>
<path d="M695.55 1840.3V1841.17M692.05 1840.3H699.05M692.05 1841.17H699.05" stroke="#FF6200" stroke-width="2.9" fill="none"/>
<path d="M731.9 1847.8V1848.67M728.4 1847.8H735.4M728.4 1848.67H735.4" stroke="#08809A" stroke-width="2.9" fill="none"/>
<path d="M780 1853.94V1855.39M776.5 1853.94H783.5M776.5 1855.39H783.5" stroke="#FF6200" stroke-width="2.9" fill="none"/>
<path d="M816.35 1862.86V1863.74M812.85 1862.86H819.85M812.85 1863.74H819.85" stroke="#08809A" stroke-width="2.9" fill="none"/>
<path d="M864.45 1879.12V1883.22M860.95 1879.12H867.95M860.95 1883.22H867.95" stroke="#FF6200" stroke-width="2.9" fill="none"/>
<path d="M882.55 1879.21V1881.19M879.05 1879.21H886.05M879.05 1881.19H886.05" stroke="#808080" stroke-width="2.9" fill="none"/>
<path d="M900.8 1857.45V1859.22M897.3 1857.45H904.3M897.3 1859.22H904.3" stroke="#08809A" stroke-width="2.9" fill="none"/>
<path d="M948.9 1878.28V1880.32M945.4 1878.28H952.4M945.4 1880.32H952.4" stroke="#FF6200" stroke-width="2.9" fill="none"/>
<path d="M985.25 1877.73V1880.27M981.75 1877.73H988.75M981.75 1880.27H988.75" stroke="#08809A" stroke-width="2.9" fill="none"/>
<circle cx="170.9" cy="1886.2" r="7" fill="#000000"/>
<circle cx="170.9" cy="1887.5" r="7" fill="#000000"/>
<circle cx="170.9" cy="1888.6" r="7" fill="#000000"/>
<circle cx="273.3" cy="1884.8" r="7" fill="#FF6200"/>
<circle cx="273.3" cy="1886.5" r="7" fill="#FF6200"/>
<circle cx="273.3" cy="1887.9" r="7" fill="#FF6200"/>
<polygon points="291.4,1879.5 298.3,1886.4 291.4,1893.3 284.5,1886.4" fill="#808080"/>
<polygon points="291.4,1880.1 298.3,1887 291.4,1893.9 284.5,1887" fill="#808080"/>
<polygon points="291.4,1880.6 298.3,1887.5 291.4,1894.4 284.5,1887.5" fill="#808080"/>
<polygon points="309.65,1879.5 316.55,1886.4 309.65,1893.3 302.75,1886.4" fill="#08809A"/>
<polygon points="309.65,1879.6 316.55,1886.5 309.65,1893.4 302.75,1886.5" fill="#08809A"/>
<polygon points="309.65,1880.1 316.55,1887 309.65,1893.9 302.75,1887" fill="#08809A"/>
<circle cx="357.75" cy="1883.4" r="7" fill="#FF6200"/>
<circle cx="357.75" cy="1884" r="7" fill="#FF6200"/>
<circle cx="357.75" cy="1885.1" r="7" fill="#FF6200"/>
<polygon points="375.85,1878 382.75,1884.9 375.85,1891.8 368.95,1884.9" fill="#808080"/>
<polygon points="375.85,1878.1 382.75,1885 375.85,1891.9 368.95,1885" fill="#808080"/>
<polygon points="375.85,1878.6 382.75,1885.5 375.85,1892.4 368.95,1885.5" fill="#808080"/>
<polygon points="394.1,1873.8 401,1880.7 394.1,1887.6 387.2,1880.7" fill="#08809A"/>
<polygon points="394.1,1877.1 401,1884 394.1,1890.9 387.2,1884" fill="#08809A"/>
<polygon points="394.1,1879.5 401,1886.4 394.1,1893.3 387.2,1886.4" fill="#08809A"/>
<circle cx="442.2" cy="1504.8" r="7" fill="#FF6200"/>
<circle cx="442.2" cy="1523.2" r="7" fill="#FF6200"/>
<circle cx="442.2" cy="1686.5" r="7" fill="#FF6200"/>
<polygon points="460.3,1879.1 467.2,1886 460.3,1892.9 453.4,1886" fill="#808080"/>
<polygon points="460.3,1880.3 467.2,1887.2 460.3,1894.1 453.4,1887.2" fill="#808080"/>
<polygon points="460.3,1881.1 467.2,1888 460.3,1894.9 453.4,1888" fill="#808080"/>
<polygon points="478.55,1659.6 485.45,1666.5 478.55,1673.4 471.65,1666.5" fill="#08809A"/>
<polygon points="478.55,1661.6 485.45,1668.5 478.55,1675.4 471.65,1668.5" fill="#08809A"/>
<polygon points="478.55,1692.1 485.45,1699 478.55,1705.9 471.65,1699" fill="#08809A"/>
<circle cx="526.65" cy="1599.5" r="7" fill="#FF6200"/>
<circle cx="526.65" cy="1605" r="7" fill="#FF6200"/>
<circle cx="526.65" cy="1615" r="7" fill="#FF6200"/>
<polygon points="544.75,1882.1 551.65,1889 544.75,1895.9 537.85,1889" fill="#808080"/>
<polygon points="544.75,1882.5 551.65,1889.4 544.75,1896.3 537.85,1889.4" fill="#808080"/>
<polygon points="544.75,1883.1 551.65,1890 544.75,1896.9 537.85,1890" fill="#808080"/>
<polygon points="563,1754.1 569.9,1761 563,1767.9 556.1,1761" fill="#08809A"/>
<polygon points="563,1755.1 569.9,1762 563,1768.9 556.1,1762" fill="#08809A"/>
<polygon points="563,1776.7 569.9,1783.6 563,1790.5 556.1,1783.6" fill="#08809A"/>
<circle cx="611.1" cy="1744.4" r="7" fill="#FF6200"/>
<circle cx="611.1" cy="1758.8" r="7" fill="#FF6200"/>
<circle cx="611.1" cy="1763.7" r="7" fill="#FF6200"/>
<polygon points="629.2,1882.6 636.1,1889.5 629.2,1896.4 622.3,1889.5" fill="#808080"/>
<polygon points="629.2,1882.9 636.1,1889.8 629.2,1896.7 622.3,1889.8" fill="#808080"/>
<polygon points="629.2,1883.3 636.1,1890.2 629.2,1897.1 622.3,1890.2" fill="#808080"/>
<polygon points="647.45,1806.8 654.35,1813.7 647.45,1820.6 640.55,1813.7" fill="#08809A"/>
<polygon points="647.45,1819.4 654.35,1826.3 647.45,1833.2 640.55,1826.3" fill="#08809A"/>
<polygon points="647.45,1819.4 654.35,1826.3 647.45,1833.2 640.55,1826.3" fill="#08809A"/>
<circle cx="695.55" cy="1840" r="7" fill="#FF6200"/>
<circle cx="695.55" cy="1840.7" r="7" fill="#FF6200"/>
<circle cx="695.55" cy="1841.5" r="7" fill="#FF6200"/>
<polygon points="713.65,1881.1 720.55,1888 713.65,1894.9 706.75,1888" fill="#808080"/>
<polygon points="713.65,1881.5 720.55,1888.4 713.65,1895.3 706.75,1888.4" fill="#808080"/>
<polygon points="713.65,1881.9 720.55,1888.8 713.65,1895.7 706.75,1888.8" fill="#808080"/>
<polygon points="731.9,1840.6 738.8,1847.5 731.9,1854.4 725,1847.5" fill="#08809A"/>
<polygon points="731.9,1841.3 738.8,1848.2 731.9,1855.1 725,1848.2" fill="#08809A"/>
<polygon points="731.9,1842.1 738.8,1849 731.9,1855.9 725,1849" fill="#08809A"/>
<circle cx="780" cy="1853.5" r="7" fill="#FF6200"/>
<circle cx="780" cy="1854.5" r="7" fill="#FF6200"/>
<circle cx="780" cy="1856" r="7" fill="#FF6200"/>
<polygon points="798.1,1881.1 805,1888 798.1,1894.9 791.2,1888" fill="#808080"/>
<polygon points="798.1,1881.5 805,1888.4 798.1,1895.3 791.2,1888.4" fill="#808080"/>
<polygon points="798.1,1881.9 805,1888.8 798.1,1895.7 791.2,1888.8" fill="#808080"/>
<polygon points="816.35,1855.6 823.25,1862.5 816.35,1869.4 809.45,1862.5" fill="#08809A"/>
<polygon points="816.35,1856.5 823.25,1863.4 816.35,1870.3 809.45,1863.4" fill="#08809A"/>
<polygon points="816.35,1857.1 823.25,1864 816.35,1870.9 809.45,1864" fill="#08809A"/>
<circle cx="864.45" cy="1877.7" r="7" fill="#FF6200"/>
<circle cx="864.45" cy="1881" r="7" fill="#FF6200"/>
<circle cx="864.45" cy="1884.8" r="7" fill="#FF6200"/>
<polygon points="882.55,1871.7 889.45,1878.6 882.55,1885.5 875.65,1878.6" fill="#808080"/>
<polygon points="882.55,1873.1 889.45,1880 882.55,1886.9 875.65,1880" fill="#808080"/>
<polygon points="882.55,1875.1 889.45,1882 882.55,1888.9 875.65,1882" fill="#808080"/>
<polygon points="900.8,1850.1 907.7,1857 900.8,1863.9 893.9,1857" fill="#08809A"/>
<polygon points="900.8,1851.1 907.7,1858 900.8,1864.9 893.9,1858" fill="#08809A"/>
<polygon points="900.8,1853.1 907.7,1860 900.8,1866.9 893.9,1860" fill="#08809A"/>
<circle cx="948.9" cy="1877.7" r="7" fill="#FF6200"/>
<circle cx="948.9" cy="1879" r="7" fill="#FF6200"/>
<circle cx="948.9" cy="1881.2" r="7" fill="#FF6200"/>
<polygon points="967,1881.1 973.9,1888 967,1894.9 960.1,1888" fill="#808080"/>
<polygon points="967,1881.5 973.9,1888.4 967,1895.3 960.1,1888.4" fill="#808080"/>
<polygon points="967,1881.9 973.9,1888.8 967,1895.7 960.1,1888.8" fill="#808080"/>
<polygon points="985.25,1869.9 992.15,1876.8 985.25,1883.7 978.35,1876.8" fill="#08809A"/>
<polygon points="985.25,1872.1 992.15,1879 985.25,1885.9 978.35,1879" fill="#08809A"/>
<polygon points="985.25,1874.3 992.15,1881.2 985.25,1888.1 978.35,1881.2" fill="#08809A"/>
<path d="M158.8 1475.4V1901" stroke="#000" stroke-width="3" fill="none"/>
<path d="M149.8 1898H998.5" stroke="#000" stroke-width="3" fill="none" stroke-linecap="round"/>
<path d="M149.8 1898H158.8" stroke="#000" stroke-width="3"/>
<text x="147.5" y="1908.5" text-anchor="end" font-size="29.8" textLength="16.35" lengthAdjust="spacingAndGlyphs">0</text>
<path d="M149.8 1813.8H158.8" stroke="#000" stroke-width="3"/>
<text x="147.5" y="1824.3" text-anchor="end" font-size="29.8" textLength="65.41" lengthAdjust="spacingAndGlyphs">5000</text>
<path d="M149.8 1729.6H158.8" stroke="#000" stroke-width="3"/>
<text x="147.5" y="1740.1" text-anchor="end" font-size="29.8" textLength="81.76" lengthAdjust="spacingAndGlyphs">10000</text>
<path d="M149.8 1645.3H158.8" stroke="#000" stroke-width="3"/>
<text x="147.5" y="1655.8" text-anchor="end" font-size="29.8" textLength="81.76" lengthAdjust="spacingAndGlyphs">15000</text>
<path d="M149.8 1561.1H158.8" stroke="#000" stroke-width="3"/>
<text x="147.5" y="1571.6" text-anchor="end" font-size="29.8" textLength="81.76" lengthAdjust="spacingAndGlyphs">20000</text>
<path d="M149.8 1476.9H158.8" stroke="#000" stroke-width="3"/>
<text x="147.5" y="1487.4" text-anchor="end" font-size="29.8" textLength="81.76" lengthAdjust="spacingAndGlyphs">25000</text>
<path d="M197.7 1898V1906.5" stroke="#000" stroke-width="3" stroke-linecap="round"/>
<text transform="translate(208.2 1931.4) rotate(-45)" text-anchor="end" font-size="30.4" textLength="117.78" lengthAdjust="spacingAndGlyphs">pre-dose</text>
<path d="M282.15 1898V1906.5" stroke="#000" stroke-width="3" stroke-linecap="round"/>
<text transform="translate(292.65 1931.4) rotate(-45)" text-anchor="end" font-size="30.4" textLength="132.7" lengthAdjust="spacingAndGlyphs">Day 0_2H</text>
<path d="M366.6 1898V1906.5" stroke="#000" stroke-width="3" stroke-linecap="round"/>
<text transform="translate(377.1 1931.4) rotate(-45)" text-anchor="end" font-size="30.4" textLength="77.95" lengthAdjust="spacingAndGlyphs">Day 1</text>
<path d="M451.05 1898V1906.5" stroke="#000" stroke-width="3" stroke-linecap="round"/>
<text transform="translate(461.55 1931.4) rotate(-45)" text-anchor="end" font-size="30.4" textLength="77.95" lengthAdjust="spacingAndGlyphs">Day 2</text>
<path d="M535.5 1898V1906.5" stroke="#000" stroke-width="3" stroke-linecap="round"/>
<text transform="translate(546 1931.4) rotate(-45)" text-anchor="end" font-size="30.4" textLength="77.95" lengthAdjust="spacingAndGlyphs">Day 3</text>
<path d="M619.95 1898V1906.5" stroke="#000" stroke-width="3" stroke-linecap="round"/>
<text transform="translate(630.45 1931.4) rotate(-45)" text-anchor="end" font-size="30.4" textLength="77.95" lengthAdjust="spacingAndGlyphs">Day 4</text>
<path d="M704.4 1898V1906.5" stroke="#000" stroke-width="3" stroke-linecap="round"/>
<text transform="translate(714.9 1931.4) rotate(-45)" text-anchor="end" font-size="30.4" textLength="77.95" lengthAdjust="spacingAndGlyphs">Day 5</text>
<path d="M788.85 1898V1906.5" stroke="#000" stroke-width="3" stroke-linecap="round"/>
<text transform="translate(799.35 1931.4) rotate(-45)" text-anchor="end" font-size="30.4" textLength="77.95" lengthAdjust="spacingAndGlyphs">Day 6</text>
<path d="M873.3 1898V1906.5" stroke="#000" stroke-width="3" stroke-linecap="round"/>
<text transform="translate(883.8 1931.4) rotate(-45)" text-anchor="end" font-size="30.4" textLength="77.95" lengthAdjust="spacingAndGlyphs">Day 7</text>
<path d="M957.75 1898V1906.5" stroke="#000" stroke-width="3" stroke-linecap="round"/>
<text transform="translate(968.25 1931.4) rotate(-45)" text-anchor="end" font-size="30.4" textLength="77.95" lengthAdjust="spacingAndGlyphs">Day 8</text>
<text x="508" y="2031" text-anchor="middle" font-size="29.4" font-weight="bold">Time points</text>
<text transform="translate(50.5 1682.4) rotate(-90)" text-anchor="middle" font-size="29.5" font-weight="bold">Blood Treg Ki67 MFI</text>
<text x="3.3" y="1439.5" font-size="51" font-weight="bold">e</text>
</svg>
</body></html>
